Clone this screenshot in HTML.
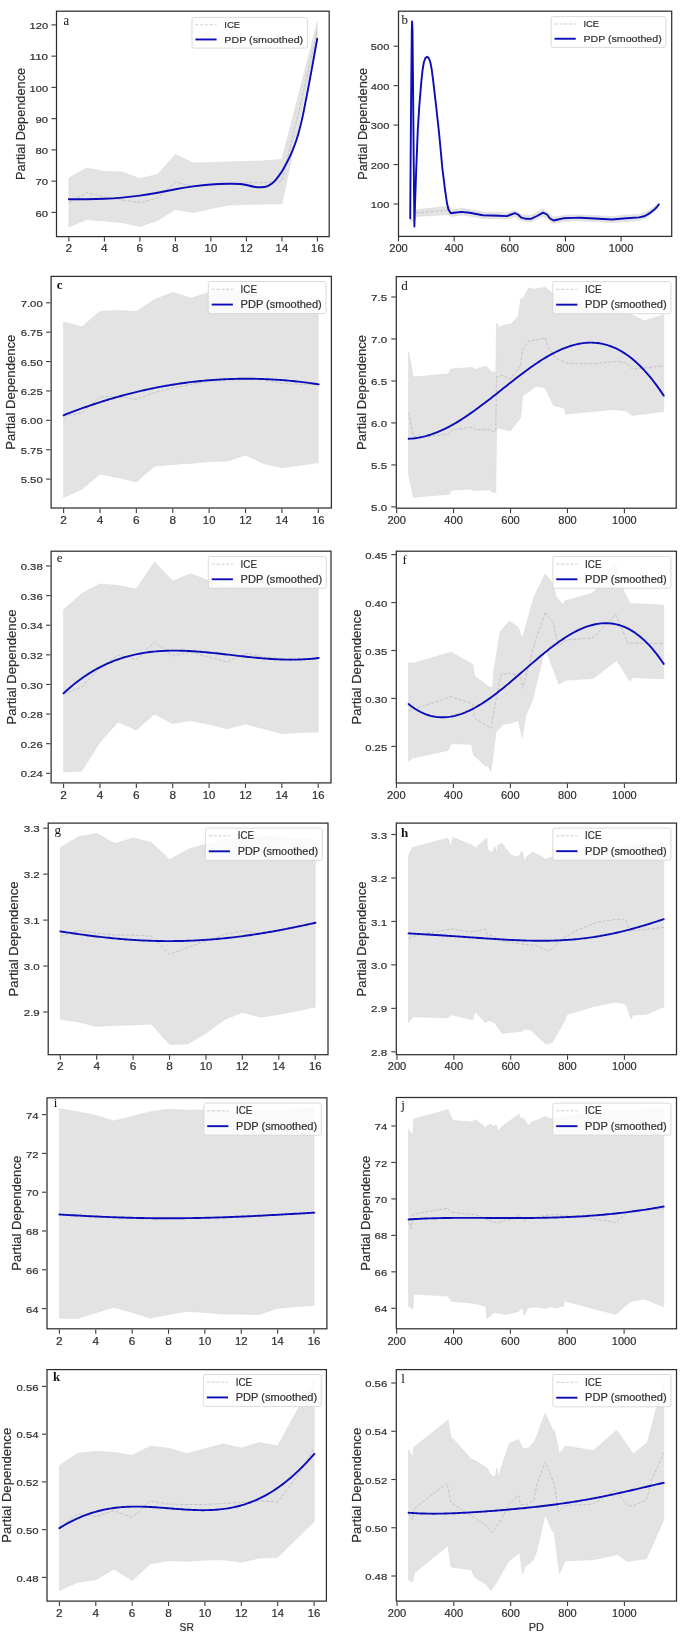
<!DOCTYPE html>
<html><head><meta charset="utf-8"><title>PDP panels</title>
<style>
html,body{margin:0;padding:0;background:#fff;}
body{width:685px;height:1638px;overflow:hidden;}
svg{display:block;will-change:transform;}
text{font-family:"Liberation Sans",sans-serif;fill:#2b2b2b;stroke:#3a3a3a;stroke-width:0.2px;}
text.lt{font-family:"Liberation Serif",serif;fill:#111;stroke:none;}
</style></head>
<body>
<svg width="685" height="1638" viewBox="0 0 685 1638">
<rect x="0" y="0" width="685" height="1638" fill="#ffffff"/>
<g id="pa">
<polygon points="68.9,178 86.65,168 104.4,171.4 122.15,172 139.9,178.6 157.65,174.4 175.4,154.5 193.15,163.1 210.9,162.6 228.65,161.9 246.4,161.5 264.15,160.8 281.9,159.5 317.4,21.7 317.4,37 281.9,203.8 264.15,204 246.4,204.4 228.65,205 210.9,208.6 193.15,212.6 175.4,209.4 157.65,220.4 139.9,226.4 122.15,222.6 104.4,221 86.65,219.6 68.9,227" fill="#e3e3e3" stroke="#dadada" stroke-width="0.6" stroke-linejoin="round"/>
<polyline points="68.9,203 86.65,192.6 104.4,197 122.15,200 139.9,202.6 157.65,198 175.4,181.9 193.15,186.4 210.9,184.5 228.65,183.8 246.4,182.8 264.15,182.6 281.9,181.2 299.65,108 317.4,30" fill="none" stroke="#bfbfbf" stroke-width="0.9" stroke-dasharray="3.2,1.6"/>
<path d="M68.9,199.2 C71.86,199.22 80.73,199.37 86.65,199.3 C92.57,199.23 98.48,199.08 104.4,198.8 C110.32,198.52 116.23,198.13 122.15,197.6 C128.07,197.07 133.98,196.4 139.9,195.6 C145.82,194.8 151.73,193.87 157.65,192.8 C163.57,191.73 169.48,190.27 175.4,189.2 C181.32,188.13 187.23,187.18 193.15,186.4 C199.07,185.62 204.98,184.93 210.9,184.5 C216.82,184.07 223.8,183.88 228.65,183.8 C233.5,183.72 237.04,183.8 240,184 C242.96,184.2 244.07,184.55 246.4,185 C248.73,185.45 251.57,186.33 254,186.7 C256.43,187.07 258.83,187.27 261,187.2 C263.17,187.13 265.17,186.92 267,186.3 C268.83,185.68 270.5,184.63 272,183.5 C273.5,182.37 274.8,180.85 276,179.5 C277.2,178.15 278.12,176.9 279.2,175.4 C280.28,173.9 281.53,172.07 282.5,170.5 C283.47,168.93 283.6,168.68 285,166 C286.4,163.32 288.95,158.87 290.9,154.4 C292.85,149.93 294.93,144.68 296.7,139.2 C298.47,133.72 300.03,127.7 301.5,121.5 C302.97,115.3 304.22,108.42 305.5,102 C306.78,95.58 307.92,89.82 309.2,83 C310.48,76.18 311.87,68.47 313.2,61.1 C314.53,53.73 316.53,42.52 317.2,38.8" fill="none" stroke="#0c0cb8" stroke-width="1.9" stroke-linecap="round"/>
<rect x="192" y="17.4" width="115.4" height="30.7" rx="2" ry="2" fill="#ffffff" fill-opacity="0.82" stroke="#d2d2d2" stroke-width="0.8"/>
<line x1="195.4" y1="24.79" x2="216.6" y2="24.79" stroke="#cacaca" stroke-width="0.9" stroke-dasharray="3.2,1.6"/>
<line x1="195.4" y1="39.46" x2="216.6" y2="39.46" stroke="#0c0cb8" stroke-width="1.9"/>
<text x="224.3" y="28.18" font-size="9.89" textLength="15.89" lengthAdjust="spacingAndGlyphs">ICE</text>
<text x="224.3" y="42.66" font-size="9.89" textLength="78.9" lengthAdjust="spacingAndGlyphs">PDP (smoothed)</text>
<rect x="56.5" y="11.2" width="272.7" height="225.4" fill="none" stroke="#2e2e2e" stroke-width="1.25"/>
<line x1="68.9" y1="237.2" x2="68.9" y2="241.6" stroke="#3a3a3a" stroke-width="1.1"/>
<text x="68.9" y="252.3" font-size="10.5" text-anchor="middle" textLength="6.58" lengthAdjust="spacingAndGlyphs">2</text>
<line x1="104.4" y1="237.2" x2="104.4" y2="241.6" stroke="#3a3a3a" stroke-width="1.1"/>
<text x="104.4" y="252.3" font-size="10.5" text-anchor="middle" textLength="6.58" lengthAdjust="spacingAndGlyphs">4</text>
<line x1="139.9" y1="237.2" x2="139.9" y2="241.6" stroke="#3a3a3a" stroke-width="1.1"/>
<text x="139.9" y="252.3" font-size="10.5" text-anchor="middle" textLength="6.58" lengthAdjust="spacingAndGlyphs">6</text>
<line x1="175.4" y1="237.2" x2="175.4" y2="241.6" stroke="#3a3a3a" stroke-width="1.1"/>
<text x="175.4" y="252.3" font-size="10.5" text-anchor="middle" textLength="6.58" lengthAdjust="spacingAndGlyphs">8</text>
<line x1="210.9" y1="237.2" x2="210.9" y2="241.6" stroke="#3a3a3a" stroke-width="1.1"/>
<text x="210.9" y="252.3" font-size="10.5" text-anchor="middle" textLength="12.56" lengthAdjust="spacingAndGlyphs">10</text>
<line x1="246.4" y1="237.2" x2="246.4" y2="241.6" stroke="#3a3a3a" stroke-width="1.1"/>
<text x="246.4" y="252.3" font-size="10.5" text-anchor="middle" textLength="12.56" lengthAdjust="spacingAndGlyphs">12</text>
<line x1="281.9" y1="237.2" x2="281.9" y2="241.6" stroke="#3a3a3a" stroke-width="1.1"/>
<text x="281.9" y="252.3" font-size="10.5" text-anchor="middle" textLength="12.56" lengthAdjust="spacingAndGlyphs">14</text>
<line x1="317.4" y1="237.2" x2="317.4" y2="241.6" stroke="#3a3a3a" stroke-width="1.1"/>
<text x="317.4" y="252.3" font-size="10.5" text-anchor="middle" textLength="12.56" lengthAdjust="spacingAndGlyphs">16</text>
<line x1="51.5" y1="212.4" x2="55.9" y2="212.4" stroke="#3a3a3a" stroke-width="1.1"/>
<text x="48.1" y="216.5" font-size="9.6" text-anchor="end" textLength="12.56" lengthAdjust="spacingAndGlyphs">60</text>
<line x1="51.5" y1="181.15" x2="55.9" y2="181.15" stroke="#3a3a3a" stroke-width="1.1"/>
<text x="48.1" y="185.25" font-size="9.6" text-anchor="end" textLength="12.56" lengthAdjust="spacingAndGlyphs">70</text>
<line x1="51.5" y1="149.9" x2="55.9" y2="149.9" stroke="#3a3a3a" stroke-width="1.1"/>
<text x="48.1" y="154" font-size="9.6" text-anchor="end" textLength="12.56" lengthAdjust="spacingAndGlyphs">80</text>
<line x1="51.5" y1="118.65" x2="55.9" y2="118.65" stroke="#3a3a3a" stroke-width="1.1"/>
<text x="48.1" y="122.75" font-size="9.6" text-anchor="end" textLength="12.56" lengthAdjust="spacingAndGlyphs">90</text>
<line x1="51.5" y1="87.4" x2="55.9" y2="87.4" stroke="#3a3a3a" stroke-width="1.1"/>
<text x="48.1" y="91.5" font-size="9.6" text-anchor="end" textLength="18.54" lengthAdjust="spacingAndGlyphs">100</text>
<line x1="51.5" y1="56.15" x2="55.9" y2="56.15" stroke="#3a3a3a" stroke-width="1.1"/>
<text x="48.1" y="60.25" font-size="9.6" text-anchor="end" textLength="18.54" lengthAdjust="spacingAndGlyphs">110</text>
<line x1="51.5" y1="24.9" x2="55.9" y2="24.9" stroke="#3a3a3a" stroke-width="1.1"/>
<text x="48.1" y="29" font-size="9.6" text-anchor="end" textLength="18.54" lengthAdjust="spacingAndGlyphs">120</text>
<text transform="translate(24.9,123.9) rotate(-90)" font-size="12.4" text-anchor="middle" textLength="112" lengthAdjust="spacingAndGlyphs">Partial Dependence</text>
<text transform="translate(63.4,24.6) scale(0.85,1)" class="lt" font-size="15">a</text>
</g>
<g id="pb">
<polygon points="410,219 414.5,218 416,209.8 448.3,206.2 452,209.5 462,208.5 470,209.5 483,212 499,212.5 507,213 515,210.5 521,214.5 531,215.5 543,209 553.5,217 563,215.5 575,214.7 594,215.5 612,216.5 626,215 639,214.5 647,211.5 653.7,207 658.5,202.5 658.8,206 653.7,212.5 647.3,217.5 639,220.5 626,221.5 612,222.5 594,221.5 575,220.8 563,221.5 553.5,223.5 543,216 531,222 521,220.8 515,216.8 507,219.2 499,218.8 483,218.5 470,216 462,215 452,216.5 448.3,214.6 416,216.4 414,221 410,221" fill="#e3e3e3" stroke="#dadada" stroke-width="0.6" stroke-linejoin="round"/>
<polyline points="416,212.8 447,210.4 452,213 470,213 483,215.3 499,215.7 507,216.1 515,213.7 521.4,217.7 531,218.9 543.1,212.4 553.5,220.5 563.1,218.5 575,217.7 594.3,218.5 611.9,219.5 626.4,218.2 639.2,217.4 647.3,214.6 653.7,209.6 658.8,203.5" fill="none" stroke="#bfbfbf" stroke-width="0.9" stroke-dasharray="3.2,1.6"/>
<polyline points="410.2,218.2 410.7,150 411.3,80 411.8,30 412.1,21.4 412.5,30 413,80 413.6,150 414.1,200 414.4,226.5 415,205 416.2,170 417.2,145 417.8,129.7 419.3,105.8 421.3,81.8 422.5,70.5 423.8,62.5 425.3,58.2 427.1,56.7 428.9,58.2 430.4,62.5 431.8,70 433.3,81.8 436.1,105.8 438.7,129.7 440.5,148 442.3,167.9 445.3,191.8 447.1,203.8 448.5,209.5 450.7,213.2 454,212.7 461.4,211.9 469.8,212.8 482.8,215.3 498.9,215.7 506.9,216.1 511,214.5 515,213.2 518,214.5 521.4,217.7 526,218.8 531,218.9 537,216 543.1,212.6 547,214.5 550,218.5 553.5,220.5 558,219.5 563.1,218.3 572.8,217.9 580,217.8 594.3,218.5 611.9,219.5 626.4,218.2 639.2,217.4 644,216.3 647.3,214.6 650.5,212.6 653.7,210.1 656.5,207.5 658.8,204.5" fill="none" stroke="#0c0cb8" stroke-width="1.9" stroke-linejoin="round" stroke-linecap="round"/>
<rect x="551.1" y="16.6" width="114.8" height="30.8" rx="2" ry="2" fill="#ffffff" fill-opacity="0.82" stroke="#d2d2d2" stroke-width="0.8"/>
<line x1="554.5" y1="24.01" x2="575.7" y2="24.01" stroke="#cacaca" stroke-width="0.9" stroke-dasharray="3.2,1.6"/>
<line x1="554.5" y1="38.74" x2="575.7" y2="38.74" stroke="#0c0cb8" stroke-width="1.9"/>
<text x="583.4" y="27.42" font-size="9.91" textLength="15.77" lengthAdjust="spacingAndGlyphs">ICE</text>
<text x="583.4" y="41.94" font-size="9.91" textLength="78.3" lengthAdjust="spacingAndGlyphs">PDP (smoothed)</text>
<rect x="398.5" y="11.2" width="273.2" height="225.2" fill="none" stroke="#2e2e2e" stroke-width="1.25"/>
<line x1="398.5" y1="237" x2="398.5" y2="241.4" stroke="#3a3a3a" stroke-width="1.1"/>
<text x="398.5" y="252.1" font-size="10.5" text-anchor="middle" textLength="18.54" lengthAdjust="spacingAndGlyphs">200</text>
<line x1="454.15" y1="237" x2="454.15" y2="241.4" stroke="#3a3a3a" stroke-width="1.1"/>
<text x="454.15" y="252.1" font-size="10.5" text-anchor="middle" textLength="18.54" lengthAdjust="spacingAndGlyphs">400</text>
<line x1="509.8" y1="237" x2="509.8" y2="241.4" stroke="#3a3a3a" stroke-width="1.1"/>
<text x="509.8" y="252.1" font-size="10.5" text-anchor="middle" textLength="18.54" lengthAdjust="spacingAndGlyphs">600</text>
<line x1="565.45" y1="237" x2="565.45" y2="241.4" stroke="#3a3a3a" stroke-width="1.1"/>
<text x="565.45" y="252.1" font-size="10.5" text-anchor="middle" textLength="18.54" lengthAdjust="spacingAndGlyphs">800</text>
<line x1="621.1" y1="237" x2="621.1" y2="241.4" stroke="#3a3a3a" stroke-width="1.1"/>
<text x="621.1" y="252.1" font-size="10.5" text-anchor="middle" textLength="24.52" lengthAdjust="spacingAndGlyphs">1000</text>
<line x1="393.5" y1="204" x2="397.9" y2="204" stroke="#3a3a3a" stroke-width="1.1"/>
<text x="389.4" y="208.1" font-size="9.6" text-anchor="end" textLength="18.54" lengthAdjust="spacingAndGlyphs">100</text>
<line x1="393.5" y1="164.55" x2="397.9" y2="164.55" stroke="#3a3a3a" stroke-width="1.1"/>
<text x="389.4" y="168.65" font-size="9.6" text-anchor="end" textLength="18.54" lengthAdjust="spacingAndGlyphs">200</text>
<line x1="393.5" y1="125.1" x2="397.9" y2="125.1" stroke="#3a3a3a" stroke-width="1.1"/>
<text x="389.4" y="129.2" font-size="9.6" text-anchor="end" textLength="18.54" lengthAdjust="spacingAndGlyphs">300</text>
<line x1="393.5" y1="85.65" x2="397.9" y2="85.65" stroke="#3a3a3a" stroke-width="1.1"/>
<text x="389.4" y="89.75" font-size="9.6" text-anchor="end" textLength="18.54" lengthAdjust="spacingAndGlyphs">400</text>
<line x1="393.5" y1="46.2" x2="397.9" y2="46.2" stroke="#3a3a3a" stroke-width="1.1"/>
<text x="389.4" y="50.3" font-size="9.6" text-anchor="end" textLength="18.54" lengthAdjust="spacingAndGlyphs">500</text>
<text transform="translate(366.5,123.8) rotate(-90)" font-size="12.4" text-anchor="middle" textLength="112" lengthAdjust="spacingAndGlyphs">Partial Dependence</text>
<text transform="translate(401.4,24.4) scale(1,1)" class="lt" font-size="13">b</text>
</g>
<g id="pc">
<polygon points="63.6,322 81.79,327 99.99,311.4 118.18,310.6 136.37,311.4 154.56,299.6 172.76,292.4 190.95,298.2 209.14,292.5 227.34,287.7 245.53,293 263.72,297 281.91,302 300.11,306 318.3,309 318.3,462.6 300.11,465.2 281.91,467.7 263.72,463.6 245.53,455 227.34,461.1 209.14,461.5 190.95,463.2 172.76,464.4 154.56,466 136.37,482 118.18,477.6 99.99,474 81.79,489.3 63.6,497.4" fill="#e3e3e3" stroke="#dadada" stroke-width="0.6" stroke-linejoin="round"/>
<polyline points="63.6,416 81.79,413 99.99,397 118.18,396.5 136.37,399.3 154.56,392.5 172.76,388 190.95,384.5 209.14,381.5 227.34,380.3 245.53,379.6 263.72,379.5 281.91,383.5 300.11,384.3 318.3,384.3" fill="none" stroke="#bfbfbf" stroke-width="0.9" stroke-dasharray="3.2,1.6"/>
<polyline points="63.6,415.28 65.61,414.49 67.62,413.7 69.63,412.92 71.63,412.16 73.64,411.4 75.65,410.64 77.66,409.9 79.67,409.17 81.68,408.44 83.69,407.72 85.7,407.01 87.7,406.31 89.71,405.62 91.72,404.94 93.73,404.26 95.74,403.6 97.75,402.94 99.76,402.29 101.76,401.65 103.77,401.02 105.78,400.4 107.79,399.78 109.8,399.18 111.81,398.58 113.82,397.99 115.83,397.41 117.83,396.84 119.84,396.28 121.85,395.73 123.86,395.18 125.87,394.65 127.88,394.12 129.89,393.6 131.89,393.09 133.9,392.59 135.91,392.1 137.92,391.62 139.93,391.14 141.94,390.68 143.95,390.22 145.96,389.77 147.96,389.33 149.97,388.9 151.98,388.48 153.99,388.07 156,387.67 158.01,387.27 160.02,386.89 162.02,386.51 164.03,386.14 166.04,385.79 168.05,385.44 170.06,385.1 172.07,384.76 174.08,384.44 176.09,384.13 178.09,383.82 180.1,383.52 182.11,383.24 184.12,382.96 186.13,382.69 188.14,382.43 190.15,382.18 192.15,381.93 194.16,381.7 196.17,381.47 198.18,381.26 200.19,381.05 202.2,380.85 204.21,380.66 206.21,380.48 208.22,380.31 210.23,380.15 212.24,379.99 214.25,379.85 216.26,379.71 218.27,379.59 220.28,379.47 222.28,379.36 224.29,379.26 226.3,379.17 228.31,379.08 230.32,379.01 232.33,378.94 234.34,378.89 236.34,378.84 238.35,378.8 240.36,378.77 242.37,378.75 244.38,378.74 246.39,378.73 248.4,378.74 250.41,378.75 252.41,378.77 254.42,378.81 256.43,378.85 258.44,378.9 260.45,378.95 262.46,379.02 264.47,379.09 266.47,379.18 268.48,379.27 270.49,379.37 272.5,379.48 274.51,379.6 276.52,379.73 278.53,379.86 280.54,380 282.54,380.16 284.55,380.32 286.56,380.49 288.57,380.67 290.58,380.85 292.59,381.05 294.6,381.25 296.6,381.46 298.61,381.68 300.62,381.91 302.63,382.15 304.64,382.4 306.65,382.65 308.66,382.91 310.67,383.18 312.67,383.46 314.68,383.75 316.69,384.04 318.7,384.35" fill="none" stroke="#0c0cb8" stroke-width="1.9" stroke-linejoin="round" stroke-linecap="round"/>
<rect x="208.3" y="281.5" width="117.7" height="32.1" rx="2" ry="2" fill="#ffffff" fill-opacity="0.82" stroke="#d2d2d2" stroke-width="0.8"/>
<line x1="211.7" y1="289.22" x2="232.9" y2="289.22" stroke="#cacaca" stroke-width="0.9" stroke-dasharray="3.2,1.6"/>
<line x1="211.7" y1="304.57" x2="232.9" y2="304.57" stroke="#0c0cb8" stroke-width="1.9"/>
<text x="240.6" y="292.77" font-size="10.16" textLength="16.35" lengthAdjust="spacingAndGlyphs">ICE</text>
<text x="240.6" y="307.91" font-size="10.16" textLength="81.2" lengthAdjust="spacingAndGlyphs">PDP (smoothed)</text>
<rect x="51.1" y="276.4" width="280.3" height="231.6" fill="none" stroke="#2e2e2e" stroke-width="1.25"/>
<line x1="63.6" y1="508.6" x2="63.6" y2="513" stroke="#3a3a3a" stroke-width="1.1"/>
<text x="63.6" y="523.7" font-size="10.5" text-anchor="middle" textLength="6.58" lengthAdjust="spacingAndGlyphs">2</text>
<line x1="99.99" y1="508.6" x2="99.99" y2="513" stroke="#3a3a3a" stroke-width="1.1"/>
<text x="99.99" y="523.7" font-size="10.5" text-anchor="middle" textLength="6.58" lengthAdjust="spacingAndGlyphs">4</text>
<line x1="136.37" y1="508.6" x2="136.37" y2="513" stroke="#3a3a3a" stroke-width="1.1"/>
<text x="136.37" y="523.7" font-size="10.5" text-anchor="middle" textLength="6.58" lengthAdjust="spacingAndGlyphs">6</text>
<line x1="172.76" y1="508.6" x2="172.76" y2="513" stroke="#3a3a3a" stroke-width="1.1"/>
<text x="172.76" y="523.7" font-size="10.5" text-anchor="middle" textLength="6.58" lengthAdjust="spacingAndGlyphs">8</text>
<line x1="209.14" y1="508.6" x2="209.14" y2="513" stroke="#3a3a3a" stroke-width="1.1"/>
<text x="209.14" y="523.7" font-size="10.5" text-anchor="middle" textLength="12.56" lengthAdjust="spacingAndGlyphs">10</text>
<line x1="245.53" y1="508.6" x2="245.53" y2="513" stroke="#3a3a3a" stroke-width="1.1"/>
<text x="245.53" y="523.7" font-size="10.5" text-anchor="middle" textLength="12.56" lengthAdjust="spacingAndGlyphs">12</text>
<line x1="281.91" y1="508.6" x2="281.91" y2="513" stroke="#3a3a3a" stroke-width="1.1"/>
<text x="281.91" y="523.7" font-size="10.5" text-anchor="middle" textLength="12.56" lengthAdjust="spacingAndGlyphs">14</text>
<line x1="318.3" y1="508.6" x2="318.3" y2="513" stroke="#3a3a3a" stroke-width="1.1"/>
<text x="318.3" y="523.7" font-size="10.5" text-anchor="middle" textLength="12.56" lengthAdjust="spacingAndGlyphs">16</text>
<line x1="46.1" y1="479.1" x2="50.5" y2="479.1" stroke="#3a3a3a" stroke-width="1.1"/>
<text x="42.7" y="483.2" font-size="9.6" text-anchor="end" textLength="22.04" lengthAdjust="spacingAndGlyphs">5.50</text>
<line x1="46.1" y1="449.72" x2="50.5" y2="449.72" stroke="#3a3a3a" stroke-width="1.1"/>
<text x="42.7" y="453.82" font-size="9.6" text-anchor="end" textLength="22.04" lengthAdjust="spacingAndGlyphs">5.75</text>
<line x1="46.1" y1="420.33" x2="50.5" y2="420.33" stroke="#3a3a3a" stroke-width="1.1"/>
<text x="42.7" y="424.43" font-size="9.6" text-anchor="end" textLength="22.04" lengthAdjust="spacingAndGlyphs">6.00</text>
<line x1="46.1" y1="390.95" x2="50.5" y2="390.95" stroke="#3a3a3a" stroke-width="1.1"/>
<text x="42.7" y="395.05" font-size="9.6" text-anchor="end" textLength="22.04" lengthAdjust="spacingAndGlyphs">6.25</text>
<line x1="46.1" y1="361.57" x2="50.5" y2="361.57" stroke="#3a3a3a" stroke-width="1.1"/>
<text x="42.7" y="365.67" font-size="9.6" text-anchor="end" textLength="22.04" lengthAdjust="spacingAndGlyphs">6.50</text>
<line x1="46.1" y1="332.18" x2="50.5" y2="332.18" stroke="#3a3a3a" stroke-width="1.1"/>
<text x="42.7" y="336.28" font-size="9.6" text-anchor="end" textLength="22.04" lengthAdjust="spacingAndGlyphs">6.75</text>
<line x1="46.1" y1="302.8" x2="50.5" y2="302.8" stroke="#3a3a3a" stroke-width="1.1"/>
<text x="42.7" y="306.9" font-size="9.6" text-anchor="end" textLength="22.04" lengthAdjust="spacingAndGlyphs">7.00</text>
<text transform="translate(15.3,392.2) rotate(-90)" font-size="12.7" text-anchor="middle" textLength="115" lengthAdjust="spacingAndGlyphs">Partial Dependence</text>
<text transform="translate(56.8,289.2) scale(1,1)" class="lt" font-size="13" font-weight="bold">c</text>
</g>
<g id="pd">
<polygon points="408.6,352.6 413.3,377.1 448,374 451.1,368.9 472.6,367.5 474.6,369.5 485.8,366.2 492,372 495.8,372.3 496.5,324 497.7,324 498.1,327.4 505.2,325 511.4,324 518.5,315.8 520.6,299.4 523.6,297.4 528.8,287.8 532.8,289.2 540,288.2 545.2,287.2 555,295 570,300 590,305 610,308 630,313.7 644.3,320.9 663.7,314.7 663.7,411.5 632.1,415.5 626,410.8 613.7,409.4 565.6,414.1 564.6,408.4 553.4,405.3 546.2,390 544.2,387.3 536,386.3 530.8,390 522.6,396.1 520.6,417.6 510.4,430.9 496.5,427.8 495.8,492.2 492,492.2 489.9,489.7 473.6,490.6 471.5,489.1 452.1,490.1 449,494.2 413.3,497.3 408.6,473.8" fill="#e3e3e3" stroke="#dadada" stroke-width="0.6" stroke-linejoin="round"/>
<polyline points="408.6,412.5 413.3,436 428.6,436.6 449,434 452.1,429.9 471.5,427.2 474.6,429.4 489.9,429.9 493,431.9 495.8,431 496.5,377 502.2,375.4 510.4,379 520.6,365.8 522.6,349.5 528.8,341 540,339.3 545.2,337.6 548.3,347.4 556.4,358.7 568.7,363.4 593.2,363.8 617.7,361.3 625.9,362.8 632.1,368.9 642.3,368.3 663.7,365.8" fill="none" stroke="#bfbfbf" stroke-width="0.9" stroke-dasharray="3.2,1.6"/>
<polyline points="408.6,438.71 410.61,438.61 412.62,438.45 414.63,438.23 416.63,437.96 418.64,437.64 420.65,437.26 422.66,436.83 424.67,436.35 426.68,435.82 428.69,435.23 430.7,434.6 432.7,433.92 434.71,433.19 436.72,432.41 438.73,431.59 440.74,430.72 442.75,429.81 444.76,428.86 446.76,427.86 448.77,426.83 450.78,425.75 452.79,424.64 454.8,423.49 456.81,422.31 458.82,421.09 460.83,419.84 462.83,418.56 464.84,417.25 466.85,415.91 468.86,414.55 470.87,413.15 472.88,411.74 474.89,410.3 476.89,408.83 478.9,407.35 480.91,405.85 482.92,404.34 484.93,402.81 486.94,401.26 488.95,399.71 490.96,398.14 492.96,396.56 494.97,394.98 496.98,393.39 498.99,391.79 501,390.2 503.01,388.6 505.02,387 507.02,385.41 509.03,383.82 511.04,382.24 513.05,380.66 515.06,379.09 517.07,377.54 519.08,375.99 521.09,374.46 523.09,372.95 525.1,371.46 527.11,369.98 529.12,368.52 531.13,367.09 533.14,365.68 535.15,364.3 537.15,362.94 539.16,361.62 541.17,360.32 543.18,359.06 545.19,357.83 547.2,356.64 549.21,355.49 551.21,354.37 553.22,353.3 555.23,352.26 557.24,351.28 559.25,350.33 561.26,349.44 563.27,348.59 565.28,347.79 567.28,347.05 569.29,346.36 571.3,345.72 573.31,345.14 575.32,344.61 577.33,344.15 579.34,343.74 581.34,343.4 583.35,343.12 585.36,342.9 587.37,342.75 589.38,342.67 591.39,342.65 593.4,342.71 595.41,342.83 597.41,343.03 599.42,343.3 601.43,343.64 603.44,344.06 605.45,344.55 607.46,345.13 609.47,345.78 611.47,346.51 613.48,347.32 615.49,348.21 617.5,349.18 619.51,350.24 621.52,351.38 623.53,352.6 625.54,353.91 627.54,355.3 629.55,356.78 631.56,358.35 633.57,360.01 635.58,361.75 637.59,363.58 639.6,365.5 641.6,367.52 643.61,369.62 645.62,371.81 647.63,374.09 649.64,376.46 651.65,378.92 653.66,381.47 655.67,384.11 657.67,386.85 659.68,389.67 661.69,392.59 663.7,395.6" fill="none" stroke="#0c0cb8" stroke-width="1.9" stroke-linejoin="round" stroke-linecap="round"/>
<rect x="552.8" y="281.6" width="118.1" height="32.1" rx="2" ry="2" fill="#ffffff" fill-opacity="0.82" stroke="#d2d2d2" stroke-width="0.8"/>
<line x1="556.2" y1="289.32" x2="577.4" y2="289.32" stroke="#cacaca" stroke-width="0.9" stroke-dasharray="3.2,1.6"/>
<line x1="556.2" y1="304.67" x2="577.4" y2="304.67" stroke="#0c0cb8" stroke-width="1.9"/>
<text x="585.1" y="292.87" font-size="10.16" textLength="16.43" lengthAdjust="spacingAndGlyphs">ICE</text>
<text x="585.1" y="308.01" font-size="10.16" textLength="81.6" lengthAdjust="spacingAndGlyphs">PDP (smoothed)</text>
<rect x="396.3" y="276.6" width="279.9" height="231.6" fill="none" stroke="#2e2e2e" stroke-width="1.25"/>
<line x1="396.7" y1="508.8" x2="396.7" y2="513.2" stroke="#3a3a3a" stroke-width="1.1"/>
<text x="396.7" y="523.9" font-size="10.5" text-anchor="middle" textLength="18.54" lengthAdjust="spacingAndGlyphs">200</text>
<line x1="453.62" y1="508.8" x2="453.62" y2="513.2" stroke="#3a3a3a" stroke-width="1.1"/>
<text x="453.62" y="523.9" font-size="10.5" text-anchor="middle" textLength="18.54" lengthAdjust="spacingAndGlyphs">400</text>
<line x1="510.55" y1="508.8" x2="510.55" y2="513.2" stroke="#3a3a3a" stroke-width="1.1"/>
<text x="510.55" y="523.9" font-size="10.5" text-anchor="middle" textLength="18.54" lengthAdjust="spacingAndGlyphs">600</text>
<line x1="567.48" y1="508.8" x2="567.48" y2="513.2" stroke="#3a3a3a" stroke-width="1.1"/>
<text x="567.48" y="523.9" font-size="10.5" text-anchor="middle" textLength="18.54" lengthAdjust="spacingAndGlyphs">800</text>
<line x1="624.4" y1="508.8" x2="624.4" y2="513.2" stroke="#3a3a3a" stroke-width="1.1"/>
<text x="624.4" y="523.9" font-size="10.5" text-anchor="middle" textLength="24.52" lengthAdjust="spacingAndGlyphs">1000</text>
<line x1="391.3" y1="506.9" x2="395.7" y2="506.9" stroke="#3a3a3a" stroke-width="1.1"/>
<text x="387.2" y="511" font-size="9.6" text-anchor="end" textLength="16.06" lengthAdjust="spacingAndGlyphs">5.0</text>
<line x1="391.3" y1="464.92" x2="395.7" y2="464.92" stroke="#3a3a3a" stroke-width="1.1"/>
<text x="387.2" y="469.02" font-size="9.6" text-anchor="end" textLength="16.06" lengthAdjust="spacingAndGlyphs">5.5</text>
<line x1="391.3" y1="422.94" x2="395.7" y2="422.94" stroke="#3a3a3a" stroke-width="1.1"/>
<text x="387.2" y="427.04" font-size="9.6" text-anchor="end" textLength="16.06" lengthAdjust="spacingAndGlyphs">6.0</text>
<line x1="391.3" y1="380.96" x2="395.7" y2="380.96" stroke="#3a3a3a" stroke-width="1.1"/>
<text x="387.2" y="385.06" font-size="9.6" text-anchor="end" textLength="16.06" lengthAdjust="spacingAndGlyphs">6.5</text>
<line x1="391.3" y1="338.98" x2="395.7" y2="338.98" stroke="#3a3a3a" stroke-width="1.1"/>
<text x="387.2" y="343.08" font-size="9.6" text-anchor="end" textLength="16.06" lengthAdjust="spacingAndGlyphs">7.0</text>
<line x1="391.3" y1="297" x2="395.7" y2="297" stroke="#3a3a3a" stroke-width="1.1"/>
<text x="387.2" y="301.1" font-size="9.6" text-anchor="end" textLength="16.06" lengthAdjust="spacingAndGlyphs">7.5</text>
<text transform="translate(365.9,392.4) rotate(-90)" font-size="12.7" text-anchor="middle" textLength="115" lengthAdjust="spacingAndGlyphs">Partial Dependence</text>
<text transform="translate(401.2,290.4) scale(1,1)" class="lt" font-size="13">d</text>
</g>
<g id="pe">
<polygon points="63.6,609.6 81.79,593.6 99.97,584 118.16,585.6 136.34,589 154.53,562 172.71,581 190.9,573.8 209.09,581 227.27,586.5 245.46,583 263.64,578 281.83,575 300.01,573 318.2,572 318.2,732 300.01,732.4 281.83,733.5 263.64,728.8 245.46,723.9 227.27,728.8 209.09,724.3 190.9,720.6 172.71,723.6 154.53,714 136.34,730 118.16,722 99.97,742 81.79,771 63.6,772" fill="#e3e3e3" stroke="#dadada" stroke-width="0.6" stroke-linejoin="round"/>
<polyline points="63.6,694 81.79,687 99.97,668 118.16,655 136.34,659.6 154.53,642 172.71,656 190.9,652 209.09,657.3 227.27,662 245.46,653.2 263.64,657.3 281.83,658.5 300.01,659 318.2,658" fill="none" stroke="#bfbfbf" stroke-width="0.9" stroke-dasharray="3.2,1.6"/>
<polyline points="63.5,693.37 65.51,691.52 67.52,689.72 69.53,687.97 71.54,686.27 73.55,684.62 75.56,683.02 77.57,681.46 79.58,679.96 81.59,678.5 83.59,677.09 85.6,675.72 87.61,674.4 89.62,673.12 91.63,671.89 93.64,670.69 95.65,669.54 97.66,668.44 99.67,667.37 101.68,666.34 103.69,665.35 105.7,664.4 107.71,663.49 109.72,662.62 111.73,661.78 113.74,660.98 115.75,660.22 117.76,659.49 119.76,658.79 121.77,658.13 123.78,657.5 125.79,656.9 127.8,656.34 129.81,655.81 131.82,655.3 133.83,654.83 135.84,654.38 137.85,653.97 139.86,653.58 141.87,653.21 143.88,652.88 145.89,652.57 147.9,652.29 149.91,652.03 151.92,651.79 153.93,651.58 155.93,651.39 157.94,651.22 159.95,651.08 161.96,650.95 163.97,650.85 165.98,650.77 167.99,650.7 170,650.65 172.01,650.62 174.02,650.61 176.03,650.62 178.04,650.64 180.05,650.68 182.06,650.73 184.07,650.79 186.08,650.87 188.09,650.97 190.1,651.07 192.1,651.19 194.11,651.32 196.12,651.46 198.13,651.61 200.14,651.76 202.15,651.93 204.16,652.11 206.17,652.29 208.18,652.48 210.19,652.68 212.2,652.89 214.21,653.1 216.22,653.31 218.23,653.53 220.24,653.75 222.25,653.98 224.26,654.21 226.27,654.44 228.27,654.67 230.28,654.9 232.29,655.14 234.3,655.37 236.31,655.6 238.32,655.84 240.33,656.07 242.34,656.29 244.35,656.52 246.36,656.74 248.37,656.96 250.38,657.17 252.39,657.38 254.4,657.58 256.41,657.78 258.42,657.97 260.43,658.15 262.44,658.33 264.44,658.49 266.45,658.65 268.46,658.8 270.47,658.94 272.48,659.07 274.49,659.19 276.5,659.29 278.51,659.39 280.52,659.47 282.53,659.54 284.54,659.59 286.55,659.64 288.56,659.66 290.57,659.68 292.58,659.67 294.59,659.65 296.6,659.62 298.61,659.56 300.61,659.49 302.62,659.41 304.63,659.3 306.64,659.17 308.65,659.03 310.66,658.86 312.67,658.68 314.68,658.47 316.69,658.24 318.7,657.99" fill="none" stroke="#0c0cb8" stroke-width="1.9" stroke-linejoin="round" stroke-linecap="round"/>
<rect x="208.3" y="556.5" width="118" height="31.7" rx="2" ry="2" fill="#ffffff" fill-opacity="0.82" stroke="#d2d2d2" stroke-width="0.8"/>
<line x1="211.7" y1="564.13" x2="232.9" y2="564.13" stroke="#cacaca" stroke-width="0.9" stroke-dasharray="3.2,1.6"/>
<line x1="211.7" y1="579.28" x2="232.9" y2="579.28" stroke="#0c0cb8" stroke-width="1.9"/>
<text x="240.6" y="567.63" font-size="10.08" textLength="16.41" lengthAdjust="spacingAndGlyphs">ICE</text>
<text x="240.6" y="582.58" font-size="10.08" textLength="81.5" lengthAdjust="spacingAndGlyphs">PDP (smoothed)</text>
<rect x="51.1" y="551.2" width="279.9" height="231.7" fill="none" stroke="#2e2e2e" stroke-width="1.25"/>
<line x1="63.6" y1="783.5" x2="63.6" y2="787.9" stroke="#3a3a3a" stroke-width="1.1"/>
<text x="63.6" y="798.6" font-size="10.5" text-anchor="middle" textLength="6.58" lengthAdjust="spacingAndGlyphs">2</text>
<line x1="99.97" y1="783.5" x2="99.97" y2="787.9" stroke="#3a3a3a" stroke-width="1.1"/>
<text x="99.97" y="798.6" font-size="10.5" text-anchor="middle" textLength="6.58" lengthAdjust="spacingAndGlyphs">4</text>
<line x1="136.34" y1="783.5" x2="136.34" y2="787.9" stroke="#3a3a3a" stroke-width="1.1"/>
<text x="136.34" y="798.6" font-size="10.5" text-anchor="middle" textLength="6.58" lengthAdjust="spacingAndGlyphs">6</text>
<line x1="172.71" y1="783.5" x2="172.71" y2="787.9" stroke="#3a3a3a" stroke-width="1.1"/>
<text x="172.71" y="798.6" font-size="10.5" text-anchor="middle" textLength="6.58" lengthAdjust="spacingAndGlyphs">8</text>
<line x1="209.09" y1="783.5" x2="209.09" y2="787.9" stroke="#3a3a3a" stroke-width="1.1"/>
<text x="209.09" y="798.6" font-size="10.5" text-anchor="middle" textLength="12.56" lengthAdjust="spacingAndGlyphs">10</text>
<line x1="245.46" y1="783.5" x2="245.46" y2="787.9" stroke="#3a3a3a" stroke-width="1.1"/>
<text x="245.46" y="798.6" font-size="10.5" text-anchor="middle" textLength="12.56" lengthAdjust="spacingAndGlyphs">12</text>
<line x1="281.83" y1="783.5" x2="281.83" y2="787.9" stroke="#3a3a3a" stroke-width="1.1"/>
<text x="281.83" y="798.6" font-size="10.5" text-anchor="middle" textLength="12.56" lengthAdjust="spacingAndGlyphs">14</text>
<line x1="318.2" y1="783.5" x2="318.2" y2="787.9" stroke="#3a3a3a" stroke-width="1.1"/>
<text x="318.2" y="798.6" font-size="10.5" text-anchor="middle" textLength="12.56" lengthAdjust="spacingAndGlyphs">16</text>
<line x1="46.1" y1="773.3" x2="50.5" y2="773.3" stroke="#3a3a3a" stroke-width="1.1"/>
<text x="42.7" y="777.4" font-size="9.6" text-anchor="end" textLength="22.04" lengthAdjust="spacingAndGlyphs">0.24</text>
<line x1="46.1" y1="743.69" x2="50.5" y2="743.69" stroke="#3a3a3a" stroke-width="1.1"/>
<text x="42.7" y="747.79" font-size="9.6" text-anchor="end" textLength="22.04" lengthAdjust="spacingAndGlyphs">0.26</text>
<line x1="46.1" y1="714.07" x2="50.5" y2="714.07" stroke="#3a3a3a" stroke-width="1.1"/>
<text x="42.7" y="718.17" font-size="9.6" text-anchor="end" textLength="22.04" lengthAdjust="spacingAndGlyphs">0.28</text>
<line x1="46.1" y1="684.46" x2="50.5" y2="684.46" stroke="#3a3a3a" stroke-width="1.1"/>
<text x="42.7" y="688.56" font-size="9.6" text-anchor="end" textLength="22.04" lengthAdjust="spacingAndGlyphs">0.30</text>
<line x1="46.1" y1="654.84" x2="50.5" y2="654.84" stroke="#3a3a3a" stroke-width="1.1"/>
<text x="42.7" y="658.94" font-size="9.6" text-anchor="end" textLength="22.04" lengthAdjust="spacingAndGlyphs">0.32</text>
<line x1="46.1" y1="625.23" x2="50.5" y2="625.23" stroke="#3a3a3a" stroke-width="1.1"/>
<text x="42.7" y="629.33" font-size="9.6" text-anchor="end" textLength="22.04" lengthAdjust="spacingAndGlyphs">0.34</text>
<line x1="46.1" y1="595.61" x2="50.5" y2="595.61" stroke="#3a3a3a" stroke-width="1.1"/>
<text x="42.7" y="599.71" font-size="9.6" text-anchor="end" textLength="22.04" lengthAdjust="spacingAndGlyphs">0.36</text>
<line x1="46.1" y1="566" x2="50.5" y2="566" stroke="#3a3a3a" stroke-width="1.1"/>
<text x="42.7" y="570.1" font-size="9.6" text-anchor="end" textLength="22.04" lengthAdjust="spacingAndGlyphs">0.38</text>
<text transform="translate(15.5,667.05) rotate(-90)" font-size="12.7" text-anchor="middle" textLength="115" lengthAdjust="spacingAndGlyphs">Partial Dependence</text>
<text transform="translate(56.7,561.9) scale(1,1)" class="lt" font-size="13">e</text>
</g>
<g id="pf">
<polygon points="408.6,663 414.3,663 451.1,652.2 472.6,664.4 474.6,676.2 489.9,687.5 492.5,688 494,670 500.1,631.7 509.3,621.1 518.5,627.7 522.2,638.9 528.8,615.4 533.9,597 540,584.7 545.2,574.1 552.4,582.7 556.4,597 563.6,605.2 564.6,601.1 593.2,592.9 615.7,562.3 623.9,590.9 631,605.2 632.1,603.5 663.7,605.2 663.7,678.8 632.1,677.4 630,680.9 616.7,660.4 593.2,678.4 564.9,680.3 558.8,684.2 545.2,647.4 532.5,700 525.7,716.1 522.2,737.6 518.5,720.2 510.4,723.2 503.2,724.3 496,732.4 492.5,760 490.9,771.3 487.9,765.1 485.8,766.2 473.6,755 471.5,744.3 451.1,743.7 448,750.4 412.3,758 408.6,761" fill="#e3e3e3" stroke="#dadada" stroke-width="0.6" stroke-linejoin="round"/>
<polyline points="408.6,711 451.1,696.7 472.6,703.8 474.6,718.1 490.9,728.4 496,700 501.2,674.2 510.4,673.2 520.6,676.2 522.6,688.5 536,638.5 545.2,612.3 553.4,623.6 558.5,646.1 566.7,640 593.2,637.9 615.7,614.4 628,643 663.7,643.4" fill="none" stroke="#bfbfbf" stroke-width="0.9" stroke-dasharray="3.2,1.6"/>
<polyline points="408.6,704.05 410.61,705.64 412.62,707.13 414.63,708.5 416.63,709.77 418.64,710.94 420.65,712 422.66,712.96 424.67,713.82 426.68,714.58 428.69,715.24 430.7,715.81 432.7,716.28 434.71,716.66 436.72,716.96 438.73,717.16 440.74,717.28 442.75,717.31 444.76,717.25 446.76,717.12 448.77,716.91 450.78,716.62 452.79,716.25 454.8,715.81 456.81,715.29 458.82,714.71 460.83,714.06 462.83,713.34 464.84,712.56 466.85,711.71 468.86,710.81 470.87,709.84 472.88,708.82 474.89,707.75 476.89,706.62 478.9,705.44 480.91,704.22 482.92,702.95 484.93,701.63 486.94,700.27 488.95,698.88 490.96,697.44 492.96,695.97 494.97,694.47 496.98,692.93 498.99,691.37 501,689.77 503.01,688.16 505.02,686.52 507.02,684.86 509.03,683.18 511.04,681.48 513.05,679.78 515.06,678.06 517.07,676.33 519.08,674.59 521.09,672.84 523.09,671.1 525.1,669.35 527.11,667.6 529.12,665.86 531.13,664.12 533.14,662.4 535.15,660.68 537.15,658.97 539.16,657.28 541.17,655.6 543.18,653.94 545.19,652.3 547.2,650.69 549.21,649.1 551.21,647.54 553.22,646 555.23,644.5 557.24,643.03 559.25,641.6 561.26,640.21 563.27,638.85 565.28,637.54 567.28,636.27 569.29,635.05 571.3,633.88 573.31,632.75 575.32,631.68 577.33,630.66 579.34,629.7 581.34,628.8 583.35,627.95 585.36,627.17 587.37,626.45 589.38,625.8 591.39,625.22 593.4,624.71 595.41,624.26 597.41,623.9 599.42,623.6 601.43,623.39 603.44,623.25 605.45,623.19 607.46,623.22 609.47,623.33 611.47,623.53 613.48,623.81 615.49,624.19 617.5,624.65 619.51,625.21 621.52,625.86 623.53,626.61 625.54,627.45 627.54,628.39 629.55,629.44 631.56,630.59 633.57,631.83 635.58,633.19 637.59,634.65 639.6,636.22 641.6,637.9 643.61,639.68 645.62,641.58 647.63,643.59 649.64,645.72 651.65,647.96 653.66,650.32 655.67,652.79 657.67,655.39 659.68,658.1 661.69,660.93 663.7,663.89" fill="none" stroke="#0c0cb8" stroke-width="1.9" stroke-linejoin="round" stroke-linecap="round"/>
<rect x="552.8" y="556.5" width="118.1" height="31.7" rx="2" ry="2" fill="#ffffff" fill-opacity="0.82" stroke="#d2d2d2" stroke-width="0.8"/>
<line x1="556.2" y1="564.13" x2="577.4" y2="564.13" stroke="#cacaca" stroke-width="0.9" stroke-dasharray="3.2,1.6"/>
<line x1="556.2" y1="579.28" x2="577.4" y2="579.28" stroke="#0c0cb8" stroke-width="1.9"/>
<text x="585.1" y="567.63" font-size="10.08" textLength="16.43" lengthAdjust="spacingAndGlyphs">ICE</text>
<text x="585.1" y="582.58" font-size="10.08" textLength="81.6" lengthAdjust="spacingAndGlyphs">PDP (smoothed)</text>
<rect x="396.3" y="551.2" width="280.1" height="231.8" fill="none" stroke="#2e2e2e" stroke-width="1.25"/>
<line x1="396.4" y1="783.6" x2="396.4" y2="788" stroke="#3a3a3a" stroke-width="1.1"/>
<text x="396.4" y="798.7" font-size="10.5" text-anchor="middle" textLength="18.54" lengthAdjust="spacingAndGlyphs">200</text>
<line x1="453.4" y1="783.6" x2="453.4" y2="788" stroke="#3a3a3a" stroke-width="1.1"/>
<text x="453.4" y="798.7" font-size="10.5" text-anchor="middle" textLength="18.54" lengthAdjust="spacingAndGlyphs">400</text>
<line x1="510.4" y1="783.6" x2="510.4" y2="788" stroke="#3a3a3a" stroke-width="1.1"/>
<text x="510.4" y="798.7" font-size="10.5" text-anchor="middle" textLength="18.54" lengthAdjust="spacingAndGlyphs">600</text>
<line x1="567.4" y1="783.6" x2="567.4" y2="788" stroke="#3a3a3a" stroke-width="1.1"/>
<text x="567.4" y="798.7" font-size="10.5" text-anchor="middle" textLength="18.54" lengthAdjust="spacingAndGlyphs">800</text>
<line x1="624.4" y1="783.6" x2="624.4" y2="788" stroke="#3a3a3a" stroke-width="1.1"/>
<text x="624.4" y="798.7" font-size="10.5" text-anchor="middle" textLength="24.52" lengthAdjust="spacingAndGlyphs">1000</text>
<line x1="391.3" y1="746.4" x2="395.7" y2="746.4" stroke="#3a3a3a" stroke-width="1.1"/>
<text x="387.2" y="750.5" font-size="9.6" text-anchor="end" textLength="22.04" lengthAdjust="spacingAndGlyphs">0.25</text>
<line x1="391.3" y1="698.45" x2="395.7" y2="698.45" stroke="#3a3a3a" stroke-width="1.1"/>
<text x="387.2" y="702.55" font-size="9.6" text-anchor="end" textLength="22.04" lengthAdjust="spacingAndGlyphs">0.30</text>
<line x1="391.3" y1="650.5" x2="395.7" y2="650.5" stroke="#3a3a3a" stroke-width="1.1"/>
<text x="387.2" y="654.6" font-size="9.6" text-anchor="end" textLength="22.04" lengthAdjust="spacingAndGlyphs">0.35</text>
<line x1="391.3" y1="602.55" x2="395.7" y2="602.55" stroke="#3a3a3a" stroke-width="1.1"/>
<text x="387.2" y="606.65" font-size="9.6" text-anchor="end" textLength="22.04" lengthAdjust="spacingAndGlyphs">0.40</text>
<line x1="391.3" y1="554.6" x2="395.7" y2="554.6" stroke="#3a3a3a" stroke-width="1.1"/>
<text x="387.2" y="558.7" font-size="9.6" text-anchor="end" textLength="22.04" lengthAdjust="spacingAndGlyphs">0.45</text>
<text transform="translate(360.5,667.1) rotate(-90)" font-size="12.7" text-anchor="middle" textLength="115" lengthAdjust="spacingAndGlyphs">Partial Dependence</text>
<text transform="translate(402.5,564.1) scale(1,1)" class="lt" font-size="13">f</text>
</g>
<g id="pg">
<polygon points="60.3,847.5 78.51,836.7 96.71,833.6 114.92,843.5 133.13,838 151.34,842.4 169.54,859.8 187.75,849.6 205.96,844 224.16,840 242.37,838 260.58,836 278.79,837 296.99,838 315.2,840 315.2,1006.9 296.99,1011 278.79,1014.3 260.58,1017.2 242.37,1012.3 224.16,1019.8 205.96,1033.1 187.75,1043.9 169.54,1044.3 151.34,1023.9 133.13,1024.9 114.92,1025.3 96.71,1026.4 78.51,1021.9 60.3,1019.2" fill="#e3e3e3" stroke="#dadada" stroke-width="0.6" stroke-linejoin="round"/>
<polyline points="60.3,936.4 78.51,930.5 96.71,933 114.92,935 133.13,935 151.34,936.2 169.54,954.4 187.75,947.3 205.96,941 224.16,934.5 242.37,930.6 260.58,933.6 278.79,931 296.99,927 315.2,923" fill="none" stroke="#bfbfbf" stroke-width="0.9" stroke-dasharray="3.2,1.6"/>
<polyline points="60.3,931.38 62.31,931.7 64.32,932.01 66.33,932.32 68.33,932.62 70.34,932.92 72.35,933.22 74.36,933.51 76.37,933.8 78.38,934.09 80.39,934.37 82.4,934.65 84.4,934.92 86.41,935.19 88.42,935.45 90.43,935.71 92.44,935.96 94.45,936.21 96.46,936.46 98.46,936.69 100.47,936.93 102.48,937.16 104.49,937.38 106.5,937.59 108.51,937.81 110.52,938.01 112.53,938.21 114.53,938.4 116.54,938.59 118.55,938.77 120.56,938.95 122.57,939.11 124.58,939.28 126.59,939.43 128.59,939.58 130.6,939.72 132.61,939.86 134.62,939.99 136.63,940.11 138.64,940.23 140.65,940.33 142.66,940.44 144.66,940.53 146.67,940.62 148.68,940.7 150.69,940.77 152.7,940.84 154.71,940.89 156.72,940.95 158.72,940.99 160.73,941.03 162.74,941.05 164.75,941.08 166.76,941.09 168.77,941.1 170.78,941.1 172.79,941.09 174.79,941.07 176.8,941.05 178.81,941.02 180.82,940.98 182.83,940.93 184.84,940.88 186.85,940.82 188.85,940.75 190.86,940.67 192.87,940.59 194.88,940.49 196.89,940.4 198.9,940.29 200.91,940.17 202.91,940.05 204.92,939.92 206.93,939.78 208.94,939.64 210.95,939.49 212.96,939.33 214.97,939.16 216.98,938.99 218.98,938.81 220.99,938.62 223,938.42 225.01,938.22 227.02,938.01 229.03,937.79 231.04,937.57 233.04,937.33 235.05,937.1 237.06,936.85 239.07,936.6 241.08,936.34 243.09,936.07 245.1,935.8 247.11,935.52 249.11,935.24 251.12,934.94 253.13,934.65 255.14,934.34 257.15,934.03 259.16,933.71 261.17,933.39 263.17,933.06 265.18,932.73 267.19,932.39 269.2,932.04 271.21,931.69 273.22,931.33 275.23,930.97 277.24,930.6 279.24,930.23 281.25,929.85 283.26,929.47 285.27,929.08 287.28,928.69 289.29,928.29 291.3,927.89 293.3,927.49 295.31,927.08 297.32,926.66 299.33,926.25 301.34,925.82 303.35,925.4 305.36,924.97 307.37,924.54 309.37,924.1 311.38,923.66 313.39,923.22 315.4,922.78" fill="none" stroke="#0c0cb8" stroke-width="1.9" stroke-linejoin="round" stroke-linecap="round"/>
<rect x="205.4" y="828.1" width="116.9" height="32.3" rx="2" ry="2" fill="#ffffff" fill-opacity="0.82" stroke="#d2d2d2" stroke-width="0.8"/>
<line x1="208.8" y1="835.87" x2="230" y2="835.87" stroke="#cacaca" stroke-width="0.9" stroke-dasharray="3.2,1.6"/>
<line x1="208.8" y1="851.31" x2="230" y2="851.31" stroke="#0c0cb8" stroke-width="1.9"/>
<text x="237.7" y="839.44" font-size="10.2" textLength="16.19" lengthAdjust="spacingAndGlyphs">ICE</text>
<text x="237.7" y="854.68" font-size="10.2" textLength="80.4" lengthAdjust="spacingAndGlyphs">PDP (smoothed)</text>
<rect x="48.2" y="823.1" width="279.8" height="231.6" fill="none" stroke="#2e2e2e" stroke-width="1.25"/>
<line x1="60.3" y1="1055.3" x2="60.3" y2="1059.7" stroke="#3a3a3a" stroke-width="1.1"/>
<text x="60.3" y="1070.4" font-size="10.5" text-anchor="middle" textLength="6.58" lengthAdjust="spacingAndGlyphs">2</text>
<line x1="96.71" y1="1055.3" x2="96.71" y2="1059.7" stroke="#3a3a3a" stroke-width="1.1"/>
<text x="96.71" y="1070.4" font-size="10.5" text-anchor="middle" textLength="6.58" lengthAdjust="spacingAndGlyphs">4</text>
<line x1="133.13" y1="1055.3" x2="133.13" y2="1059.7" stroke="#3a3a3a" stroke-width="1.1"/>
<text x="133.13" y="1070.4" font-size="10.5" text-anchor="middle" textLength="6.58" lengthAdjust="spacingAndGlyphs">6</text>
<line x1="169.54" y1="1055.3" x2="169.54" y2="1059.7" stroke="#3a3a3a" stroke-width="1.1"/>
<text x="169.54" y="1070.4" font-size="10.5" text-anchor="middle" textLength="6.58" lengthAdjust="spacingAndGlyphs">8</text>
<line x1="205.96" y1="1055.3" x2="205.96" y2="1059.7" stroke="#3a3a3a" stroke-width="1.1"/>
<text x="205.96" y="1070.4" font-size="10.5" text-anchor="middle" textLength="12.56" lengthAdjust="spacingAndGlyphs">10</text>
<line x1="242.37" y1="1055.3" x2="242.37" y2="1059.7" stroke="#3a3a3a" stroke-width="1.1"/>
<text x="242.37" y="1070.4" font-size="10.5" text-anchor="middle" textLength="12.56" lengthAdjust="spacingAndGlyphs">12</text>
<line x1="278.79" y1="1055.3" x2="278.79" y2="1059.7" stroke="#3a3a3a" stroke-width="1.1"/>
<text x="278.79" y="1070.4" font-size="10.5" text-anchor="middle" textLength="12.56" lengthAdjust="spacingAndGlyphs">14</text>
<line x1="315.2" y1="1055.3" x2="315.2" y2="1059.7" stroke="#3a3a3a" stroke-width="1.1"/>
<text x="315.2" y="1070.4" font-size="10.5" text-anchor="middle" textLength="12.56" lengthAdjust="spacingAndGlyphs">16</text>
<line x1="43.2" y1="1012" x2="47.6" y2="1012" stroke="#3a3a3a" stroke-width="1.1"/>
<text x="39.8" y="1016.1" font-size="9.6" text-anchor="end" textLength="16.06" lengthAdjust="spacingAndGlyphs">2.9</text>
<line x1="43.2" y1="966.05" x2="47.6" y2="966.05" stroke="#3a3a3a" stroke-width="1.1"/>
<text x="39.8" y="970.15" font-size="9.6" text-anchor="end" textLength="16.06" lengthAdjust="spacingAndGlyphs">3.0</text>
<line x1="43.2" y1="920.1" x2="47.6" y2="920.1" stroke="#3a3a3a" stroke-width="1.1"/>
<text x="39.8" y="924.2" font-size="9.6" text-anchor="end" textLength="16.06" lengthAdjust="spacingAndGlyphs">3.1</text>
<line x1="43.2" y1="874.15" x2="47.6" y2="874.15" stroke="#3a3a3a" stroke-width="1.1"/>
<text x="39.8" y="878.25" font-size="9.6" text-anchor="end" textLength="16.06" lengthAdjust="spacingAndGlyphs">3.2</text>
<line x1="43.2" y1="828.2" x2="47.6" y2="828.2" stroke="#3a3a3a" stroke-width="1.1"/>
<text x="39.8" y="832.3" font-size="9.6" text-anchor="end" textLength="16.06" lengthAdjust="spacingAndGlyphs">3.3</text>
<text transform="translate(18.2,938.9) rotate(-90)" font-size="12.7" text-anchor="middle" textLength="115" lengthAdjust="spacingAndGlyphs">Partial Dependence</text>
<text transform="translate(54.5,834) scale(1,1)" class="lt" font-size="13">g</text>
</g>
<g id="ph">
<polygon points="408.6,855.7 412.3,847.5 448,838.3 451.1,847.5 452.7,837.3 473.6,846.1 475.2,848.2 486.9,837.9 487.5,849.6 492,852.7 495,846.9 496.5,853.7 497.7,844.9 502.2,843.5 510.4,854.7 518.1,857.2 522.2,851 524.3,861.9 526.7,856.7 532.8,852.2 540,855.7 545.2,859.2 552.8,856.7 570,852 600,848 630,845 663.7,842 663.7,1006.9 646.4,1014.3 633.1,1015.1 631,1018.8 625.9,1004.1 615.7,1002 593.2,1006.5 566.7,1014.7 564.6,1020.8 552.4,1042.3 546.2,1044.3 536,1035.1 530.8,1030 524.7,1029 522.6,1031.1 502.2,1033.5 494,1021.9 487.9,1020.4 485.8,1022.9 475.2,1011.6 472.6,1019.8 451.1,1014.7 448,1017.8 413.3,1016.7 408.6,1022.5" fill="#e3e3e3" stroke="#dadada" stroke-width="0.6" stroke-linejoin="round"/>
<polyline points="408.6,938.5 420.4,934.4 451.1,928.9 471.5,932 485.8,929.3 486.9,934.4 494,936.4 502.2,941.1 522.6,944.2 536,945.5 548.3,950.9 554.4,947.3 562.6,938.5 576.9,930.3 597.3,922.1 617.7,919.1 625.9,920.1 630,931.3 663.7,927.3" fill="none" stroke="#bfbfbf" stroke-width="0.9" stroke-dasharray="3.2,1.6"/>
<polyline points="408.6,933.41 410.61,933.53 412.62,933.64 414.63,933.75 416.63,933.87 418.64,933.98 420.65,934.1 422.66,934.21 424.67,934.33 426.68,934.44 428.69,934.56 430.7,934.68 432.7,934.8 434.71,934.93 436.72,935.05 438.73,935.18 440.74,935.3 442.75,935.43 444.76,935.56 446.76,935.7 448.77,935.83 450.78,935.96 452.79,936.1 454.8,936.24 456.81,936.37 458.82,936.51 460.83,936.65 462.83,936.79 464.84,936.94 466.85,937.08 468.86,937.22 470.87,937.36 472.88,937.51 474.89,937.65 476.89,937.79 478.9,937.93 480.91,938.07 482.92,938.21 484.93,938.35 486.94,938.49 488.95,938.63 490.96,938.76 492.96,938.89 494.97,939.02 496.98,939.15 498.99,939.28 501,939.4 503.01,939.52 505.02,939.63 507.02,939.74 509.03,939.85 511.04,939.95 513.05,940.05 515.06,940.14 517.07,940.23 519.08,940.31 521.09,940.39 523.09,940.46 525.1,940.52 527.11,940.58 529.12,940.63 531.13,940.67 533.14,940.7 535.15,940.73 537.15,940.75 539.16,940.76 541.17,940.76 543.18,940.76 545.19,940.74 547.2,940.72 549.21,940.68 551.21,940.64 553.22,940.59 555.23,940.52 557.24,940.45 559.25,940.36 561.26,940.27 563.27,940.16 565.28,940.04 567.28,939.91 569.29,939.77 571.3,939.61 573.31,939.45 575.32,939.27 577.33,939.08 579.34,938.87 581.34,938.66 583.35,938.43 585.36,938.19 587.37,937.93 589.38,937.67 591.39,937.39 593.4,937.09 595.41,936.78 597.41,936.46 599.42,936.13 601.43,935.78 603.44,935.42 605.45,935.05 607.46,934.66 609.47,934.26 611.47,933.85 613.48,933.43 615.49,932.99 617.5,932.53 619.51,932.07 621.52,931.59 623.53,931.1 625.54,930.6 627.54,930.09 629.55,929.56 631.56,929.03 633.57,928.48 635.58,927.92 637.59,927.35 639.6,926.77 641.6,926.18 643.61,925.58 645.62,924.97 647.63,924.36 649.64,923.73 651.65,923.09 653.66,922.45 655.67,921.8 657.67,921.15 659.68,920.49 661.69,919.82 663.7,919.15" fill="none" stroke="#0c0cb8" stroke-width="1.9" stroke-linejoin="round" stroke-linecap="round"/>
<rect x="552.8" y="828.1" width="118.1" height="32.1" rx="2" ry="2" fill="#ffffff" fill-opacity="0.82" stroke="#d2d2d2" stroke-width="0.8"/>
<line x1="556.2" y1="835.82" x2="577.4" y2="835.82" stroke="#cacaca" stroke-width="0.9" stroke-dasharray="3.2,1.6"/>
<line x1="556.2" y1="851.17" x2="577.4" y2="851.17" stroke="#0c0cb8" stroke-width="1.9"/>
<text x="585.1" y="839.37" font-size="10.16" textLength="16.43" lengthAdjust="spacingAndGlyphs">ICE</text>
<text x="585.1" y="854.51" font-size="10.16" textLength="81.6" lengthAdjust="spacingAndGlyphs">PDP (smoothed)</text>
<rect x="396.3" y="823.1" width="280.2" height="231.6" fill="none" stroke="#2e2e2e" stroke-width="1.25"/>
<line x1="397" y1="1055.3" x2="397" y2="1059.7" stroke="#3a3a3a" stroke-width="1.1"/>
<text x="397" y="1070.4" font-size="10.5" text-anchor="middle" textLength="18.54" lengthAdjust="spacingAndGlyphs">200</text>
<line x1="453.85" y1="1055.3" x2="453.85" y2="1059.7" stroke="#3a3a3a" stroke-width="1.1"/>
<text x="453.85" y="1070.4" font-size="10.5" text-anchor="middle" textLength="18.54" lengthAdjust="spacingAndGlyphs">400</text>
<line x1="510.7" y1="1055.3" x2="510.7" y2="1059.7" stroke="#3a3a3a" stroke-width="1.1"/>
<text x="510.7" y="1070.4" font-size="10.5" text-anchor="middle" textLength="18.54" lengthAdjust="spacingAndGlyphs">600</text>
<line x1="567.55" y1="1055.3" x2="567.55" y2="1059.7" stroke="#3a3a3a" stroke-width="1.1"/>
<text x="567.55" y="1070.4" font-size="10.5" text-anchor="middle" textLength="18.54" lengthAdjust="spacingAndGlyphs">800</text>
<line x1="624.4" y1="1055.3" x2="624.4" y2="1059.7" stroke="#3a3a3a" stroke-width="1.1"/>
<text x="624.4" y="1070.4" font-size="10.5" text-anchor="middle" textLength="24.52" lengthAdjust="spacingAndGlyphs">1000</text>
<line x1="391.3" y1="1051.8" x2="395.7" y2="1051.8" stroke="#3a3a3a" stroke-width="1.1"/>
<text x="387.2" y="1055.9" font-size="9.6" text-anchor="end" textLength="16.06" lengthAdjust="spacingAndGlyphs">2.8</text>
<line x1="391.3" y1="1008.34" x2="395.7" y2="1008.34" stroke="#3a3a3a" stroke-width="1.1"/>
<text x="387.2" y="1012.44" font-size="9.6" text-anchor="end" textLength="16.06" lengthAdjust="spacingAndGlyphs">2.9</text>
<line x1="391.3" y1="964.88" x2="395.7" y2="964.88" stroke="#3a3a3a" stroke-width="1.1"/>
<text x="387.2" y="968.98" font-size="9.6" text-anchor="end" textLength="16.06" lengthAdjust="spacingAndGlyphs">3.0</text>
<line x1="391.3" y1="921.42" x2="395.7" y2="921.42" stroke="#3a3a3a" stroke-width="1.1"/>
<text x="387.2" y="925.52" font-size="9.6" text-anchor="end" textLength="16.06" lengthAdjust="spacingAndGlyphs">3.1</text>
<line x1="391.3" y1="877.96" x2="395.7" y2="877.96" stroke="#3a3a3a" stroke-width="1.1"/>
<text x="387.2" y="882.06" font-size="9.6" text-anchor="end" textLength="16.06" lengthAdjust="spacingAndGlyphs">3.2</text>
<line x1="391.3" y1="834.5" x2="395.7" y2="834.5" stroke="#3a3a3a" stroke-width="1.1"/>
<text x="387.2" y="838.6" font-size="9.6" text-anchor="end" textLength="16.06" lengthAdjust="spacingAndGlyphs">3.3</text>
<text transform="translate(366,938.9) rotate(-90)" font-size="12.7" text-anchor="middle" textLength="115" lengthAdjust="spacingAndGlyphs">Partial Dependence</text>
<text transform="translate(401,837) scale(1,1)" class="lt" font-size="13" font-weight="bold">h</text>
</g>
<g id="pi">
<polygon points="59.4,1108.6 77.59,1111.7 95.77,1115.4 113.96,1121.1 132.14,1116.4 150.33,1111.7 168.51,1109.3 186.7,1110.3 204.89,1110 223.07,1111 241.26,1112 259.44,1111 277.63,1110 295.81,1109 314,1108 314,1305.3 295.81,1306.7 277.63,1308.3 259.44,1314.5 241.26,1314 223.07,1314 204.89,1312.4 186.7,1311.4 168.51,1314.4 150.33,1318.1 132.14,1312.4 113.96,1307.3 95.77,1312.8 77.59,1318.5 59.4,1318.1" fill="#e3e3e3" stroke="#dadada" stroke-width="0.6" stroke-linejoin="round"/>
<polyline points="59.4,1214.3 77.59,1214.5 95.77,1216.5 113.96,1217.5 132.14,1218.5 150.33,1219.3 168.51,1218.5 186.7,1218 204.89,1217.5 223.07,1217.6 241.26,1217.4 259.44,1216 277.63,1214.8 295.81,1213.8 314,1212.8" fill="none" stroke="#bfbfbf" stroke-width="0.9" stroke-dasharray="3.2,1.6"/>
<polyline points="59.4,1214.48 61.41,1214.6 63.41,1214.73 65.42,1214.85 67.43,1214.97 69.44,1215.09 71.44,1215.21 73.45,1215.32 75.46,1215.44 77.46,1215.55 79.47,1215.66 81.48,1215.77 83.49,1215.88 85.49,1215.98 87.5,1216.08 89.51,1216.19 91.51,1216.28 93.52,1216.38 95.53,1216.48 97.53,1216.57 99.54,1216.66 101.55,1216.75 103.56,1216.83 105.56,1216.92 107.57,1217 109.58,1217.08 111.58,1217.16 113.59,1217.23 115.6,1217.3 117.61,1217.37 119.61,1217.44 121.62,1217.5 123.63,1217.57 125.63,1217.63 127.64,1217.68 129.65,1217.74 131.66,1217.79 133.66,1217.84 135.67,1217.88 137.68,1217.93 139.68,1217.97 141.69,1218.01 143.7,1218.04 145.7,1218.08 147.71,1218.11 149.72,1218.13 151.73,1218.16 153.73,1218.18 155.74,1218.2 157.75,1218.22 159.75,1218.23 161.76,1218.24 163.77,1218.25 165.78,1218.26 167.78,1218.26 169.79,1218.26 171.8,1218.26 173.8,1218.25 175.81,1218.24 177.82,1218.23 179.83,1218.22 181.83,1218.2 183.84,1218.18 185.85,1218.16 187.85,1218.14 189.86,1218.11 191.87,1218.08 193.87,1218.05 195.88,1218.01 197.89,1217.98 199.9,1217.94 201.9,1217.89 203.91,1217.85 205.92,1217.8 207.92,1217.75 209.93,1217.7 211.94,1217.65 213.95,1217.59 215.95,1217.53 217.96,1217.47 219.97,1217.4 221.97,1217.34 223.98,1217.27 225.99,1217.2 228,1217.13 230,1217.05 232.01,1216.97 234.02,1216.89 236.02,1216.81 238.03,1216.73 240.04,1216.64 242.04,1216.56 244.05,1216.47 246.06,1216.38 248.07,1216.29 250.07,1216.19 252.08,1216.1 254.09,1216 256.09,1215.9 258.1,1215.8 260.11,1215.7 262.12,1215.6 264.12,1215.49 266.13,1215.39 268.14,1215.28 270.14,1215.17 272.15,1215.06 274.16,1214.95 276.17,1214.84 278.17,1214.73 280.18,1214.62 282.19,1214.5 284.19,1214.39 286.2,1214.27 288.21,1214.16 290.21,1214.04 292.22,1213.93 294.23,1213.81 296.24,1213.69 298.24,1213.58 300.25,1213.46 302.26,1213.34 304.26,1213.22 306.27,1213.11 308.28,1212.99 310.29,1212.87 312.29,1212.76 314.3,1212.64" fill="none" stroke="#0c0cb8" stroke-width="1.9" stroke-linejoin="round" stroke-linecap="round"/>
<rect x="203.8" y="1103.1" width="117.5" height="32.1" rx="2" ry="2" fill="#ffffff" fill-opacity="0.82" stroke="#d2d2d2" stroke-width="0.8"/>
<line x1="207.2" y1="1110.82" x2="228.4" y2="1110.82" stroke="#cacaca" stroke-width="0.9" stroke-dasharray="3.2,1.6"/>
<line x1="207.2" y1="1126.17" x2="228.4" y2="1126.17" stroke="#0c0cb8" stroke-width="1.9"/>
<text x="236.1" y="1114.37" font-size="10.16" textLength="16.31" lengthAdjust="spacingAndGlyphs">ICE</text>
<text x="236.1" y="1129.51" font-size="10.16" textLength="81" lengthAdjust="spacingAndGlyphs">PDP (smoothed)</text>
<rect x="47" y="1097.8" width="279.9" height="231" fill="none" stroke="#2e2e2e" stroke-width="1.25"/>
<line x1="59.4" y1="1329.4" x2="59.4" y2="1333.8" stroke="#3a3a3a" stroke-width="1.1"/>
<text x="59.4" y="1344.5" font-size="10.5" text-anchor="middle" textLength="6.58" lengthAdjust="spacingAndGlyphs">2</text>
<line x1="95.77" y1="1329.4" x2="95.77" y2="1333.8" stroke="#3a3a3a" stroke-width="1.1"/>
<text x="95.77" y="1344.5" font-size="10.5" text-anchor="middle" textLength="6.58" lengthAdjust="spacingAndGlyphs">4</text>
<line x1="132.14" y1="1329.4" x2="132.14" y2="1333.8" stroke="#3a3a3a" stroke-width="1.1"/>
<text x="132.14" y="1344.5" font-size="10.5" text-anchor="middle" textLength="6.58" lengthAdjust="spacingAndGlyphs">6</text>
<line x1="168.51" y1="1329.4" x2="168.51" y2="1333.8" stroke="#3a3a3a" stroke-width="1.1"/>
<text x="168.51" y="1344.5" font-size="10.5" text-anchor="middle" textLength="6.58" lengthAdjust="spacingAndGlyphs">8</text>
<line x1="204.89" y1="1329.4" x2="204.89" y2="1333.8" stroke="#3a3a3a" stroke-width="1.1"/>
<text x="204.89" y="1344.5" font-size="10.5" text-anchor="middle" textLength="12.56" lengthAdjust="spacingAndGlyphs">10</text>
<line x1="241.26" y1="1329.4" x2="241.26" y2="1333.8" stroke="#3a3a3a" stroke-width="1.1"/>
<text x="241.26" y="1344.5" font-size="10.5" text-anchor="middle" textLength="12.56" lengthAdjust="spacingAndGlyphs">12</text>
<line x1="277.63" y1="1329.4" x2="277.63" y2="1333.8" stroke="#3a3a3a" stroke-width="1.1"/>
<text x="277.63" y="1344.5" font-size="10.5" text-anchor="middle" textLength="12.56" lengthAdjust="spacingAndGlyphs">14</text>
<line x1="314" y1="1329.4" x2="314" y2="1333.8" stroke="#3a3a3a" stroke-width="1.1"/>
<text x="314" y="1344.5" font-size="10.5" text-anchor="middle" textLength="12.56" lengthAdjust="spacingAndGlyphs">16</text>
<line x1="42" y1="1308.6" x2="46.4" y2="1308.6" stroke="#3a3a3a" stroke-width="1.1"/>
<text x="38.6" y="1312.7" font-size="9.6" text-anchor="end" textLength="12.56" lengthAdjust="spacingAndGlyphs">64</text>
<line x1="42" y1="1269.8" x2="46.4" y2="1269.8" stroke="#3a3a3a" stroke-width="1.1"/>
<text x="38.6" y="1273.9" font-size="9.6" text-anchor="end" textLength="12.56" lengthAdjust="spacingAndGlyphs">66</text>
<line x1="42" y1="1231" x2="46.4" y2="1231" stroke="#3a3a3a" stroke-width="1.1"/>
<text x="38.6" y="1235.1" font-size="9.6" text-anchor="end" textLength="12.56" lengthAdjust="spacingAndGlyphs">68</text>
<line x1="42" y1="1192.2" x2="46.4" y2="1192.2" stroke="#3a3a3a" stroke-width="1.1"/>
<text x="38.6" y="1196.3" font-size="9.6" text-anchor="end" textLength="12.56" lengthAdjust="spacingAndGlyphs">70</text>
<line x1="42" y1="1153.4" x2="46.4" y2="1153.4" stroke="#3a3a3a" stroke-width="1.1"/>
<text x="38.6" y="1157.5" font-size="9.6" text-anchor="end" textLength="12.56" lengthAdjust="spacingAndGlyphs">72</text>
<line x1="42" y1="1114.6" x2="46.4" y2="1114.6" stroke="#3a3a3a" stroke-width="1.1"/>
<text x="38.6" y="1118.7" font-size="9.6" text-anchor="end" textLength="12.56" lengthAdjust="spacingAndGlyphs">74</text>
<text transform="translate(20.6,1213.3) rotate(-90)" font-size="12.7" text-anchor="middle" textLength="115" lengthAdjust="spacingAndGlyphs">Partial Dependence</text>
<text transform="translate(53.8,1107) scale(1,1)" class="lt" font-size="13">i</text>
</g>
<g id="pj">
<polygon points="408.6,1129.3 412.7,1135.8 413.9,1119.1 448,1109.7 452.7,1120.5 472.6,1121.9 475.2,1119.5 485.8,1127.7 487.5,1125.6 490.9,1124.6 493.6,1126.6 496.1,1124.6 497.7,1130.7 502.2,1126.6 518.5,1114.4 521.6,1119.5 522.6,1117.8 528.8,1125.6 531.8,1121.9 540,1119.1 545.2,1116.4 552.8,1119.5 570,1115 600,1112 630,1110 663.7,1108 663.7,1306.7 644.3,1299.1 631,1301.2 615.7,1314.4 565.6,1301.2 564.6,1294.4 563.6,1305.9 554.4,1308.3 552.4,1306.3 545.2,1308.3 536,1306.7 527.7,1307.9 524.3,1315.5 522.6,1307.3 518.5,1311.4 506.3,1314.5 494,1312.4 486.9,1318.5 485.8,1306.3 473.6,1303.2 451.1,1301.2 448,1296.1 413.9,1294 412.7,1309.3 408.6,1306.3" fill="#e3e3e3" stroke="#dadada" stroke-width="0.6" stroke-linejoin="round"/>
<polyline points="408.6,1222.5 411.2,1228.6 412.7,1214.3 447,1208.2 451.1,1212.3 475.6,1214.7 485.8,1219.4 496.1,1222.9 510.4,1219.4 519.6,1215.3 523.6,1220.8 527.7,1218.4 553.4,1214.3 590,1218 615.7,1222.5 630,1210.2 663.7,1209" fill="none" stroke="#bfbfbf" stroke-width="0.9" stroke-dasharray="3.2,1.6"/>
<polyline points="408.6,1219.45 410.61,1219.31 412.62,1219.19 414.63,1219.07 416.63,1218.95 418.64,1218.85 420.65,1218.75 422.66,1218.66 424.67,1218.57 426.68,1218.49 428.69,1218.42 430.7,1218.35 432.7,1218.28 434.71,1218.23 436.72,1218.18 438.73,1218.13 440.74,1218.08 442.75,1218.05 444.76,1218.01 446.76,1217.98 448.77,1217.96 450.78,1217.93 452.79,1217.91 454.8,1217.9 456.81,1217.89 458.82,1217.88 460.83,1217.87 462.83,1217.86 464.84,1217.86 466.85,1217.86 468.86,1217.86 470.87,1217.86 472.88,1217.87 474.89,1217.88 476.89,1217.88 478.9,1217.89 480.91,1217.9 482.92,1217.91 484.93,1217.92 486.94,1217.93 488.95,1217.94 490.96,1217.96 492.96,1217.97 494.97,1217.98 496.98,1217.99 498.99,1218 501,1218.01 503.01,1218.02 505.02,1218.02 507.02,1218.03 509.03,1218.04 511.04,1218.04 513.05,1218.04 515.06,1218.04 517.07,1218.04 519.08,1218.04 521.09,1218.03 523.09,1218.02 525.1,1218.01 527.11,1218 529.12,1217.99 531.13,1217.97 533.14,1217.95 535.15,1217.92 537.15,1217.9 539.16,1217.87 541.17,1217.84 543.18,1217.8 545.19,1217.76 547.2,1217.72 549.21,1217.67 551.21,1217.62 553.22,1217.56 555.23,1217.5 557.24,1217.44 559.25,1217.37 561.26,1217.3 563.27,1217.23 565.28,1217.15 567.28,1217.06 569.29,1216.97 571.3,1216.88 573.31,1216.78 575.32,1216.68 577.33,1216.57 579.34,1216.46 581.34,1216.34 583.35,1216.21 585.36,1216.09 587.37,1215.95 589.38,1215.81 591.39,1215.67 593.4,1215.52 595.41,1215.36 597.41,1215.2 599.42,1215.04 601.43,1214.86 603.44,1214.69 605.45,1214.5 607.46,1214.31 609.47,1214.12 611.47,1213.92 613.48,1213.71 615.49,1213.5 617.5,1213.28 619.51,1213.05 621.52,1212.82 623.53,1212.59 625.54,1212.34 627.54,1212.09 629.55,1211.84 631.56,1211.58 633.57,1211.31 635.58,1211.04 637.59,1210.76 639.6,1210.47 641.6,1210.18 643.61,1209.88 645.62,1209.57 647.63,1209.26 649.64,1208.95 651.65,1208.62 653.66,1208.29 655.67,1207.96 657.67,1207.61 659.68,1207.27 661.69,1206.91 663.7,1206.55" fill="none" stroke="#0c0cb8" stroke-width="1.9" stroke-linejoin="round" stroke-linecap="round"/>
<rect x="552.8" y="1103.1" width="118.1" height="32.1" rx="2" ry="2" fill="#ffffff" fill-opacity="0.82" stroke="#d2d2d2" stroke-width="0.8"/>
<line x1="556.2" y1="1110.82" x2="577.4" y2="1110.82" stroke="#cacaca" stroke-width="0.9" stroke-dasharray="3.2,1.6"/>
<line x1="556.2" y1="1126.17" x2="577.4" y2="1126.17" stroke="#0c0cb8" stroke-width="1.9"/>
<text x="585.1" y="1114.37" font-size="10.16" textLength="16.43" lengthAdjust="spacingAndGlyphs">ICE</text>
<text x="585.1" y="1129.51" font-size="10.16" textLength="81.6" lengthAdjust="spacingAndGlyphs">PDP (smoothed)</text>
<rect x="396.3" y="1097.5" width="280.2" height="231.3" fill="none" stroke="#2e2e2e" stroke-width="1.25"/>
<line x1="396.7" y1="1329.4" x2="396.7" y2="1333.8" stroke="#3a3a3a" stroke-width="1.1"/>
<text x="396.7" y="1344.5" font-size="10.5" text-anchor="middle" textLength="18.54" lengthAdjust="spacingAndGlyphs">200</text>
<line x1="453.55" y1="1329.4" x2="453.55" y2="1333.8" stroke="#3a3a3a" stroke-width="1.1"/>
<text x="453.55" y="1344.5" font-size="10.5" text-anchor="middle" textLength="18.54" lengthAdjust="spacingAndGlyphs">400</text>
<line x1="510.4" y1="1329.4" x2="510.4" y2="1333.8" stroke="#3a3a3a" stroke-width="1.1"/>
<text x="510.4" y="1344.5" font-size="10.5" text-anchor="middle" textLength="18.54" lengthAdjust="spacingAndGlyphs">600</text>
<line x1="567.25" y1="1329.4" x2="567.25" y2="1333.8" stroke="#3a3a3a" stroke-width="1.1"/>
<text x="567.25" y="1344.5" font-size="10.5" text-anchor="middle" textLength="18.54" lengthAdjust="spacingAndGlyphs">800</text>
<line x1="624.1" y1="1329.4" x2="624.1" y2="1333.8" stroke="#3a3a3a" stroke-width="1.1"/>
<text x="624.1" y="1344.5" font-size="10.5" text-anchor="middle" textLength="24.52" lengthAdjust="spacingAndGlyphs">1000</text>
<line x1="391.3" y1="1308.3" x2="395.7" y2="1308.3" stroke="#3a3a3a" stroke-width="1.1"/>
<text x="387.2" y="1312.4" font-size="9.6" text-anchor="end" textLength="12.56" lengthAdjust="spacingAndGlyphs">64</text>
<line x1="391.3" y1="1271.84" x2="395.7" y2="1271.84" stroke="#3a3a3a" stroke-width="1.1"/>
<text x="387.2" y="1275.94" font-size="9.6" text-anchor="end" textLength="12.56" lengthAdjust="spacingAndGlyphs">66</text>
<line x1="391.3" y1="1235.38" x2="395.7" y2="1235.38" stroke="#3a3a3a" stroke-width="1.1"/>
<text x="387.2" y="1239.48" font-size="9.6" text-anchor="end" textLength="12.56" lengthAdjust="spacingAndGlyphs">68</text>
<line x1="391.3" y1="1198.92" x2="395.7" y2="1198.92" stroke="#3a3a3a" stroke-width="1.1"/>
<text x="387.2" y="1203.02" font-size="9.6" text-anchor="end" textLength="12.56" lengthAdjust="spacingAndGlyphs">70</text>
<line x1="391.3" y1="1162.46" x2="395.7" y2="1162.46" stroke="#3a3a3a" stroke-width="1.1"/>
<text x="387.2" y="1166.56" font-size="9.6" text-anchor="end" textLength="12.56" lengthAdjust="spacingAndGlyphs">72</text>
<line x1="391.3" y1="1126" x2="395.7" y2="1126" stroke="#3a3a3a" stroke-width="1.1"/>
<text x="387.2" y="1130.1" font-size="9.6" text-anchor="end" textLength="12.56" lengthAdjust="spacingAndGlyphs">74</text>
<text transform="translate(370.2,1213.15) rotate(-90)" font-size="12.7" text-anchor="middle" textLength="115" lengthAdjust="spacingAndGlyphs">Partial Dependence</text>
<text transform="translate(401.3,1109.2) scale(1,1)" class="lt" font-size="13">j</text>
</g>
<g id="pk">
<polygon points="59.4,1465.6 77.59,1453.4 95.79,1451.3 113.98,1452.4 132.17,1455.4 150.36,1446.2 168.56,1448.3 186.75,1453.8 204.94,1448.7 223.14,1444 241.33,1448.1 259.52,1442.6 277.71,1446 314.1,1379.2 314.1,1521.9 295.91,1539.3 277.71,1557.3 259.52,1558.1 241.33,1562.2 223.14,1559.7 204.94,1560.1 186.75,1561.3 168.56,1560.7 150.36,1563.8 132.17,1580.6 113.98,1568.9 95.79,1579.7 77.59,1582.2 59.4,1590.4" fill="#e3e3e3" stroke="#dadada" stroke-width="0.6" stroke-linejoin="round"/>
<polyline points="59.4,1528 77.59,1513.7 95.79,1516.4 113.98,1510.7 132.17,1517.4 150.36,1500.8 168.56,1504.1 186.75,1504.5 204.94,1504.5 223.14,1503.5 241.33,1502.5 259.52,1500.8 277.71,1502.1 295.91,1478 314.1,1447.7" fill="none" stroke="#bfbfbf" stroke-width="0.9" stroke-dasharray="3.2,1.6"/>
<polyline points="59.4,1528.13 61.41,1526.89 63.41,1525.69 65.42,1524.53 67.43,1523.41 69.44,1522.33 71.44,1521.29 73.45,1520.28 75.46,1519.32 77.46,1518.4 79.47,1517.51 81.48,1516.66 83.49,1515.86 85.49,1515.09 87.5,1514.35 89.51,1513.66 91.51,1513 93.52,1512.38 95.53,1511.79 97.53,1511.24 99.54,1510.73 101.55,1510.25 103.56,1509.8 105.56,1509.38 107.57,1509 109.58,1508.65 111.58,1508.33 113.59,1508.04 115.6,1507.78 117.61,1507.54 119.61,1507.34 121.62,1507.16 123.63,1507.01 125.63,1506.88 127.64,1506.78 129.65,1506.7 131.66,1506.64 133.66,1506.61 135.67,1506.59 137.68,1506.59 139.68,1506.61 141.69,1506.65 143.7,1506.71 145.7,1506.78 147.71,1506.86 149.72,1506.96 151.73,1507.07 153.73,1507.19 155.74,1507.31 157.75,1507.45 159.75,1507.59 161.76,1507.74 163.77,1507.9 165.78,1508.06 167.78,1508.22 169.79,1508.38 171.8,1508.54 173.8,1508.7 175.81,1508.86 177.82,1509.02 179.83,1509.17 181.83,1509.31 183.84,1509.45 185.85,1509.58 187.85,1509.7 189.86,1509.81 191.87,1509.91 193.87,1510 195.88,1510.07 197.89,1510.12 199.9,1510.16 201.9,1510.18 203.91,1510.18 205.92,1510.16 207.92,1510.12 209.93,1510.06 211.94,1509.98 213.95,1509.87 215.95,1509.73 217.96,1509.57 219.97,1509.38 221.97,1509.16 223.98,1508.91 225.99,1508.63 228,1508.32 230,1507.97 232.01,1507.59 234.02,1507.18 236.02,1506.73 238.03,1506.24 240.04,1505.71 242.04,1505.15 244.05,1504.55 246.06,1503.9 248.07,1503.22 250.07,1502.49 252.08,1501.72 254.09,1500.91 256.09,1500.05 258.1,1499.15 260.11,1498.2 262.12,1497.21 264.12,1496.17 266.13,1495.08 268.14,1493.94 270.14,1492.76 272.15,1491.52 274.16,1490.24 276.17,1488.91 278.17,1487.53 280.18,1486.09 282.19,1484.61 284.19,1483.08 286.2,1481.49 288.21,1479.85 290.21,1478.16 292.22,1476.42 294.23,1474.63 296.24,1472.79 298.24,1470.89 300.25,1468.94 302.26,1466.95 304.26,1464.9 306.27,1462.79 308.28,1460.64 310.29,1458.44 312.29,1456.18 314.3,1453.88" fill="none" stroke="#0c0cb8" stroke-width="1.9" stroke-linejoin="round" stroke-linecap="round"/>
<rect x="203.4" y="1374.5" width="117.9" height="31.9" rx="2" ry="2" fill="#ffffff" fill-opacity="0.82" stroke="#d2d2d2" stroke-width="0.8"/>
<line x1="206.8" y1="1382.18" x2="228" y2="1382.18" stroke="#cacaca" stroke-width="0.9" stroke-dasharray="3.2,1.6"/>
<line x1="206.8" y1="1397.43" x2="228" y2="1397.43" stroke="#0c0cb8" stroke-width="1.9"/>
<text x="235.7" y="1385.7" font-size="10.12" textLength="16.39" lengthAdjust="spacingAndGlyphs">ICE</text>
<text x="235.7" y="1400.75" font-size="10.12" textLength="81.4" lengthAdjust="spacingAndGlyphs">PDP (smoothed)</text>
<rect x="47" y="1369.6" width="279.4" height="231.5" fill="none" stroke="#2e2e2e" stroke-width="1.25"/>
<line x1="59.4" y1="1601.7" x2="59.4" y2="1606.1" stroke="#3a3a3a" stroke-width="1.1"/>
<text x="59.4" y="1616.8" font-size="10.5" text-anchor="middle" textLength="6.58" lengthAdjust="spacingAndGlyphs">2</text>
<line x1="95.79" y1="1601.7" x2="95.79" y2="1606.1" stroke="#3a3a3a" stroke-width="1.1"/>
<text x="95.79" y="1616.8" font-size="10.5" text-anchor="middle" textLength="6.58" lengthAdjust="spacingAndGlyphs">4</text>
<line x1="132.17" y1="1601.7" x2="132.17" y2="1606.1" stroke="#3a3a3a" stroke-width="1.1"/>
<text x="132.17" y="1616.8" font-size="10.5" text-anchor="middle" textLength="6.58" lengthAdjust="spacingAndGlyphs">6</text>
<line x1="168.56" y1="1601.7" x2="168.56" y2="1606.1" stroke="#3a3a3a" stroke-width="1.1"/>
<text x="168.56" y="1616.8" font-size="10.5" text-anchor="middle" textLength="6.58" lengthAdjust="spacingAndGlyphs">8</text>
<line x1="204.94" y1="1601.7" x2="204.94" y2="1606.1" stroke="#3a3a3a" stroke-width="1.1"/>
<text x="204.94" y="1616.8" font-size="10.5" text-anchor="middle" textLength="12.56" lengthAdjust="spacingAndGlyphs">10</text>
<line x1="241.33" y1="1601.7" x2="241.33" y2="1606.1" stroke="#3a3a3a" stroke-width="1.1"/>
<text x="241.33" y="1616.8" font-size="10.5" text-anchor="middle" textLength="12.56" lengthAdjust="spacingAndGlyphs">12</text>
<line x1="277.71" y1="1601.7" x2="277.71" y2="1606.1" stroke="#3a3a3a" stroke-width="1.1"/>
<text x="277.71" y="1616.8" font-size="10.5" text-anchor="middle" textLength="12.56" lengthAdjust="spacingAndGlyphs">14</text>
<line x1="314.1" y1="1601.7" x2="314.1" y2="1606.1" stroke="#3a3a3a" stroke-width="1.1"/>
<text x="314.1" y="1616.8" font-size="10.5" text-anchor="middle" textLength="12.56" lengthAdjust="spacingAndGlyphs">16</text>
<line x1="42" y1="1577.4" x2="46.4" y2="1577.4" stroke="#3a3a3a" stroke-width="1.1"/>
<text x="38.6" y="1581.5" font-size="9.6" text-anchor="end" textLength="22.04" lengthAdjust="spacingAndGlyphs">0.48</text>
<line x1="42" y1="1529.65" x2="46.4" y2="1529.65" stroke="#3a3a3a" stroke-width="1.1"/>
<text x="38.6" y="1533.75" font-size="9.6" text-anchor="end" textLength="22.04" lengthAdjust="spacingAndGlyphs">0.50</text>
<line x1="42" y1="1481.9" x2="46.4" y2="1481.9" stroke="#3a3a3a" stroke-width="1.1"/>
<text x="38.6" y="1486" font-size="9.6" text-anchor="end" textLength="22.04" lengthAdjust="spacingAndGlyphs">0.52</text>
<line x1="42" y1="1434.15" x2="46.4" y2="1434.15" stroke="#3a3a3a" stroke-width="1.1"/>
<text x="38.6" y="1438.25" font-size="9.6" text-anchor="end" textLength="22.04" lengthAdjust="spacingAndGlyphs">0.54</text>
<line x1="42" y1="1386.4" x2="46.4" y2="1386.4" stroke="#3a3a3a" stroke-width="1.1"/>
<text x="38.6" y="1390.5" font-size="9.6" text-anchor="end" textLength="22.04" lengthAdjust="spacingAndGlyphs">0.56</text>
<text transform="translate(10.8,1485.35) rotate(-90)" font-size="12.7" text-anchor="middle" textLength="115" lengthAdjust="spacingAndGlyphs">Partial Dependence</text>
<text x="186.7" y="1631.2" font-size="11" text-anchor="middle" textLength="14.3" lengthAdjust="spacingAndGlyphs">SR</text>
<text transform="translate(53.1,1381.3) scale(1,1)" class="lt" font-size="13" font-weight="bold">k</text>
</g>
<g id="pl">
<polygon points="408.6,1449.7 412.7,1457.9 413.9,1447.3 448,1420.1 451.1,1438.5 452.7,1438.5 471.5,1459.5 474.6,1460.3 486.9,1468.1 490.9,1475.3 495,1476.7 497.1,1468.1 498.1,1477.3 509.3,1443.6 518.5,1439.5 522.6,1448.7 524.7,1448.7 528.8,1447.7 534.9,1441 545.2,1413.3 552.4,1429.3 554.4,1430.3 559.5,1453.8 565.6,1446 593.2,1450.7 616.7,1430.3 631,1450.7 633.1,1454.2 647.4,1442.6 663.7,1380.2 663.7,1519.9 646.4,1558.7 627,1561.3 617.7,1554.6 593.2,1559.7 566.7,1560.7 564.6,1561.7 559.5,1573.6 554.4,1533.1 552.4,1531.1 545.2,1514.7 536,1553.6 532.8,1560.7 524.7,1566.9 522.6,1574 519.6,1552.6 508.3,1561.7 496.1,1583.2 490.9,1590.4 485.8,1584.2 474.6,1577.1 471.5,1569.9 451.1,1566.9 448,1545.4 414.3,1573 412.7,1582.2 408.6,1580.1" fill="#e3e3e3" stroke="#dadada" stroke-width="0.6" stroke-linejoin="round"/>
<polyline points="408.6,1513.7 412.3,1519.9 414.3,1508.6 447,1483.1 451.1,1502.9 471.5,1515.8 485.8,1525 492,1532.7 502.2,1517.8 508.3,1504.5 518.5,1495.3 520.6,1504.5 526.7,1504.5 533.9,1500.4 536.9,1484.1 545.2,1461.6 554.4,1484.4 558.5,1511.7 565.6,1505.5 593.2,1504.1 615.7,1489.8 627,1505.5 632.1,1506.2 646.4,1500 652.5,1478.3 663.7,1452.8" fill="none" stroke="#bfbfbf" stroke-width="0.9" stroke-dasharray="3.2,1.6"/>
<polyline points="408.6,1512.69 410.61,1512.86 412.62,1513.01 414.63,1513.14 416.63,1513.26 418.64,1513.36 420.65,1513.44 422.66,1513.51 424.67,1513.57 426.68,1513.62 428.69,1513.65 430.7,1513.67 432.7,1513.68 434.71,1513.68 436.72,1513.66 438.73,1513.64 440.74,1513.61 442.75,1513.58 444.76,1513.53 446.76,1513.48 448.77,1513.41 450.78,1513.35 452.79,1513.27 454.8,1513.19 456.81,1513.11 458.82,1513.01 460.83,1512.92 462.83,1512.82 464.84,1512.71 466.85,1512.6 468.86,1512.48 470.87,1512.37 472.88,1512.24 474.89,1512.12 476.89,1511.99 478.9,1511.85 480.91,1511.72 482.92,1511.58 484.93,1511.43 486.94,1511.29 488.95,1511.14 490.96,1510.99 492.96,1510.83 494.97,1510.68 496.98,1510.52 498.99,1510.36 501,1510.19 503.01,1510.02 505.02,1509.85 507.02,1509.68 509.03,1509.5 511.04,1509.32 513.05,1509.14 515.06,1508.95 517.07,1508.76 519.08,1508.57 521.09,1508.38 523.09,1508.18 525.1,1507.98 527.11,1507.77 529.12,1507.56 531.13,1507.35 533.14,1507.13 535.15,1506.91 537.15,1506.69 539.16,1506.46 541.17,1506.22 543.18,1505.99 545.19,1505.75 547.2,1505.5 549.21,1505.25 551.21,1504.99 553.22,1504.73 555.23,1504.47 557.24,1504.19 559.25,1503.92 561.26,1503.64 563.27,1503.35 565.28,1503.06 567.28,1502.76 569.29,1502.46 571.3,1502.15 573.31,1501.83 575.32,1501.51 577.33,1501.19 579.34,1500.85 581.34,1500.52 583.35,1500.17 585.36,1499.82 587.37,1499.46 589.38,1499.1 591.39,1498.73 593.4,1498.36 595.41,1497.98 597.41,1497.59 599.42,1497.2 601.43,1496.81 603.44,1496.4 605.45,1495.99 607.46,1495.58 609.47,1495.16 611.47,1494.74 613.48,1494.31 615.49,1493.87 617.5,1493.44 619.51,1492.99 621.52,1492.55 623.53,1492.1 625.54,1491.64 627.54,1491.18 629.55,1490.72 631.56,1490.26 633.57,1489.79 635.58,1489.33 637.59,1488.86 639.6,1488.39 641.6,1487.91 643.61,1487.44 645.62,1486.97 647.63,1486.5 649.64,1486.03 651.65,1485.56 653.66,1485.09 655.67,1484.63 657.67,1484.17 659.68,1483.72 661.69,1483.27 663.7,1482.82" fill="none" stroke="#0c0cb8" stroke-width="1.9" stroke-linejoin="round" stroke-linecap="round"/>
<rect x="552.8" y="1374.5" width="118.1" height="32.3" rx="2" ry="2" fill="#ffffff" fill-opacity="0.82" stroke="#d2d2d2" stroke-width="0.8"/>
<line x1="556.2" y1="1382.27" x2="577.4" y2="1382.27" stroke="#cacaca" stroke-width="0.9" stroke-dasharray="3.2,1.6"/>
<line x1="556.2" y1="1397.71" x2="577.4" y2="1397.71" stroke="#0c0cb8" stroke-width="1.9"/>
<text x="585.1" y="1385.84" font-size="10.2" textLength="16.43" lengthAdjust="spacingAndGlyphs">ICE</text>
<text x="585.1" y="1401.08" font-size="10.2" textLength="81.6" lengthAdjust="spacingAndGlyphs">PDP (smoothed)</text>
<rect x="396.3" y="1369.6" width="280.2" height="231.5" fill="none" stroke="#2e2e2e" stroke-width="1.25"/>
<line x1="397" y1="1601.7" x2="397" y2="1606.1" stroke="#3a3a3a" stroke-width="1.1"/>
<text x="397" y="1616.8" font-size="10.5" text-anchor="middle" textLength="18.54" lengthAdjust="spacingAndGlyphs">200</text>
<line x1="453.85" y1="1601.7" x2="453.85" y2="1606.1" stroke="#3a3a3a" stroke-width="1.1"/>
<text x="453.85" y="1616.8" font-size="10.5" text-anchor="middle" textLength="18.54" lengthAdjust="spacingAndGlyphs">400</text>
<line x1="510.7" y1="1601.7" x2="510.7" y2="1606.1" stroke="#3a3a3a" stroke-width="1.1"/>
<text x="510.7" y="1616.8" font-size="10.5" text-anchor="middle" textLength="18.54" lengthAdjust="spacingAndGlyphs">600</text>
<line x1="567.55" y1="1601.7" x2="567.55" y2="1606.1" stroke="#3a3a3a" stroke-width="1.1"/>
<text x="567.55" y="1616.8" font-size="10.5" text-anchor="middle" textLength="18.54" lengthAdjust="spacingAndGlyphs">800</text>
<line x1="624.4" y1="1601.7" x2="624.4" y2="1606.1" stroke="#3a3a3a" stroke-width="1.1"/>
<text x="624.4" y="1616.8" font-size="10.5" text-anchor="middle" textLength="24.52" lengthAdjust="spacingAndGlyphs">1000</text>
<line x1="391.3" y1="1576" x2="395.7" y2="1576" stroke="#3a3a3a" stroke-width="1.1"/>
<text x="387.2" y="1580.1" font-size="9.6" text-anchor="end" textLength="22.04" lengthAdjust="spacingAndGlyphs">0.48</text>
<line x1="391.3" y1="1527.75" x2="395.7" y2="1527.75" stroke="#3a3a3a" stroke-width="1.1"/>
<text x="387.2" y="1531.85" font-size="9.6" text-anchor="end" textLength="22.04" lengthAdjust="spacingAndGlyphs">0.50</text>
<line x1="391.3" y1="1479.5" x2="395.7" y2="1479.5" stroke="#3a3a3a" stroke-width="1.1"/>
<text x="387.2" y="1483.6" font-size="9.6" text-anchor="end" textLength="22.04" lengthAdjust="spacingAndGlyphs">0.52</text>
<line x1="391.3" y1="1431.25" x2="395.7" y2="1431.25" stroke="#3a3a3a" stroke-width="1.1"/>
<text x="387.2" y="1435.35" font-size="9.6" text-anchor="end" textLength="22.04" lengthAdjust="spacingAndGlyphs">0.54</text>
<line x1="391.3" y1="1383" x2="395.7" y2="1383" stroke="#3a3a3a" stroke-width="1.1"/>
<text x="387.2" y="1387.1" font-size="9.6" text-anchor="end" textLength="22.04" lengthAdjust="spacingAndGlyphs">0.56</text>
<text transform="translate(360.5,1485.35) rotate(-90)" font-size="12.7" text-anchor="middle" textLength="115" lengthAdjust="spacingAndGlyphs">Partial Dependence</text>
<text x="536.4" y="1631.2" font-size="11" text-anchor="middle" textLength="15.3" lengthAdjust="spacingAndGlyphs">PD</text>
<text transform="translate(401.3,1382.7) scale(1,1)" class="lt" font-size="13">l</text>
</g>
</svg>
</body></html>
